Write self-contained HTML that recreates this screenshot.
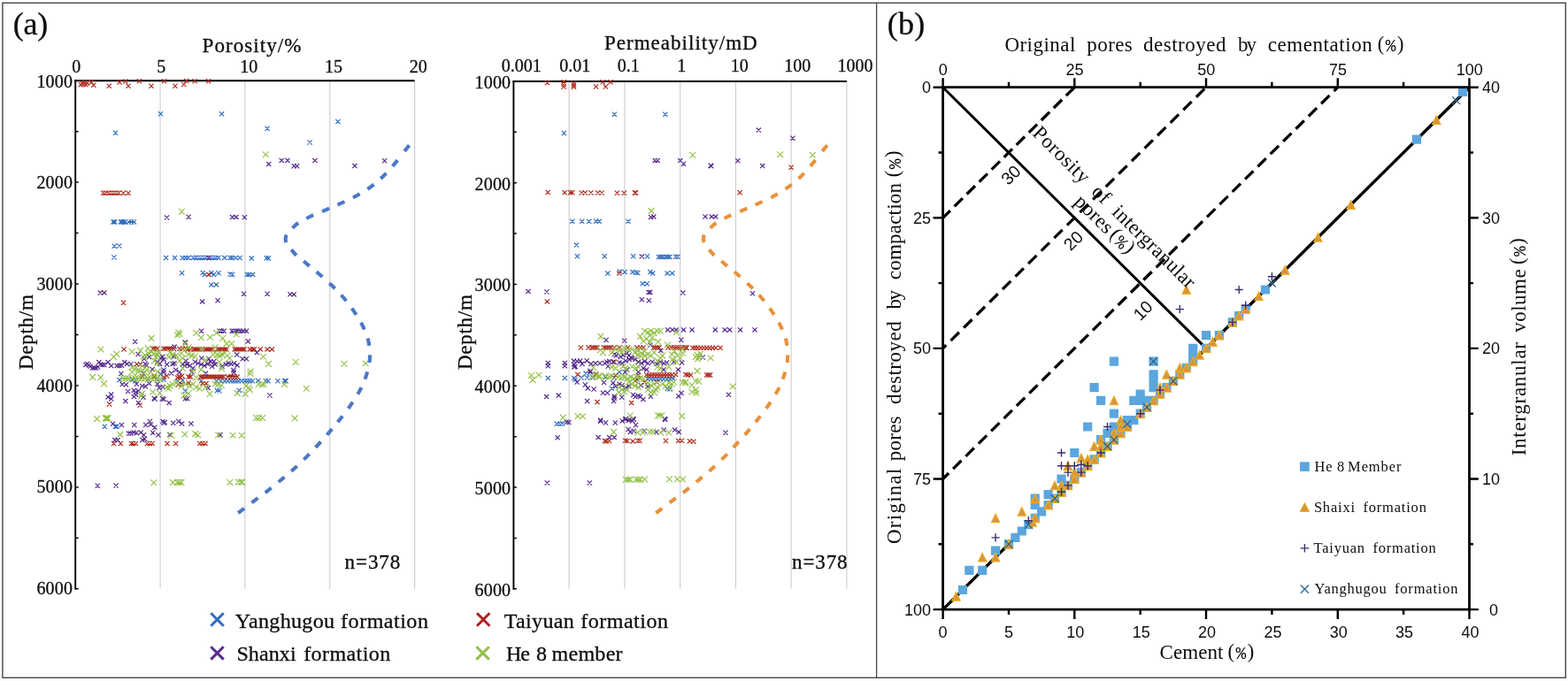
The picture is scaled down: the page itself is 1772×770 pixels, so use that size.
<!DOCTYPE html>
<html lang="en">
<head>
<meta charset="utf-8">
<title>Porosity, permeability and pore destruction charts</title>
<style>
html,body{margin:0;padding:0;background:#fff;}
body{width:1772px;height:770px;overflow:hidden;}
svg{display:block;}
text{fill:#0d0d0d;white-space:pre;}
.sf{font-family:'Liberation Serif','Noto Serif CJK SC',serif;}
.ss{font-family:'Liberation Sans','Noto Sans CJK SC',sans-serif;}
.bd{stroke:#0d0d0d;stroke-width:.3px;}
.sm{font-family:'Liberation Mono','Noto Sans CJK SC',monospace;}
</style>
</head>
<body>
<svg width="1772" height="770" viewBox="0 0 1772 770">
<rect width="1772" height="770" fill="#fff"/>
<rect x="2.9" y="3.3" width="1766.4" height="763.0" fill="none" stroke="#4a4544" stroke-width="1.4"/>
<line x1="990.6" y1="3.3" x2="990.6" y2="766.3" stroke="#4a4544" stroke-width="1.3"/>
<text class="sf bd" y="39.4" font-size="36"><tspan x="14.8" letter-spacing="-0.28">(a)</tspan></text>
<text class="sf bd" y="39.4" font-size="36"><tspan x="1002.8" letter-spacing="0.21">(b)</tspan></text>
<path d="M181.05,91.2V665.8M276.90,91.2V665.8M372.75,91.2V665.8M468.60,91.2V665.8" stroke="#c9c9cd" stroke-width="1.05" fill="none"/>
<line x1="84.3" y1="91.2" x2="468.60" y2="91.2" stroke="#000" stroke-width="2"/>
<line x1="85.2" y1="90.2" x2="85.2" y2="666.6999999999999" stroke="#000" stroke-width="1.9"/>
<path d="M85.2,91.20h3.4M85.2,148.66h3.4M85.2,206.12h3.4M85.2,263.58h3.4M85.2,321.04h3.4M85.2,378.50h3.4M85.2,435.96h3.4M85.2,493.42h3.4M85.2,550.88h3.4M85.2,608.34h3.4M85.2,665.80h3.4" stroke="#000" stroke-width="1.5" fill="none"/>
<text class="sf bd" y="98.5" font-size="20"><tspan x="41.4" letter-spacing="0.2">1000</tspan></text>
<text class="sf bd" y="213.18" font-size="20"><tspan x="41.4" letter-spacing="0.2">2000</tspan></text>
<text class="sf bd" y="327.86" font-size="20"><tspan x="41.4" letter-spacing="0.2">3000</tspan></text>
<text class="sf bd" y="442.54" font-size="20"><tspan x="41.4" letter-spacing="0.2">4000</tspan></text>
<text class="sf bd" y="557.22" font-size="20"><tspan x="41.4" letter-spacing="0.2">5000</tspan></text>
<text class="sf bd" y="671.9" font-size="20"><tspan x="41.4" letter-spacing="0.2">6000</tspan></text>
<text class="sf bd" y="0" font-size="23" transform="translate(37.4 0) rotate(-90)"><tspan x="-418.1" letter-spacing="0.74">Depth/m</tspan></text>
<g id="pts-por">
<path d="M178.9,126.2l5.2,5.2m0,-5.2l-5.2,5.2M248.0,126.2l5.2,5.2m0,-5.2l-5.2,5.2M127.9,147.7l5.2,5.2m0,-5.2l-5.2,5.2M299.5,142.6l5.2,5.2m0,-5.2l-5.2,5.2M347.5,158.4l5.2,5.2m0,-5.2l-5.2,5.2M379.3,134.9l5.2,5.2m0,-5.2l-5.2,5.2M125.4,248.3l5.2,5.2m0,-5.2l-5.2,5.2M127.1,248.3l5.2,5.2m0,-5.2l-5.2,5.2M133.9,248.3l5.2,5.2m0,-5.2l-5.2,5.2M135.6,248.3l5.2,5.2m0,-5.2l-5.2,5.2M137.3,248.3l5.2,5.2m0,-5.2l-5.2,5.2M139.0,248.3l5.2,5.2m0,-5.2l-5.2,5.2M142.9,248.3l5.2,5.2m0,-5.2l-5.2,5.2M145.8,248.3l5.2,5.2m0,-5.2l-5.2,5.2M148.8,248.3l5.2,5.2m0,-5.2l-5.2,5.2M126.6,275.6l5.2,5.2m0,-5.2l-5.2,5.2M132.2,275.4l5.2,5.2m0,-5.2l-5.2,5.2M126.3,288.4l5.2,5.2m0,-5.2l-5.2,5.2M185.0,288.8l5.2,5.2m0,-5.2l-5.2,5.2M194.9,288.8l5.2,5.2m0,-5.2l-5.2,5.2M203.7,288.8l5.2,5.2m0,-5.2l-5.2,5.2M207.3,288.8l5.2,5.2m0,-5.2l-5.2,5.2M210.2,288.8l5.2,5.2m0,-5.2l-5.2,5.2M215.8,288.8l5.2,5.2m0,-5.2l-5.2,5.2M218.6,288.8l5.2,5.2m0,-5.2l-5.2,5.2M221.5,288.8l5.2,5.2m0,-5.2l-5.2,5.2M224.3,288.8l5.2,5.2m0,-5.2l-5.2,5.2M227.1,288.8l5.2,5.2m0,-5.2l-5.2,5.2M229.9,288.8l5.2,5.2m0,-5.2l-5.2,5.2M235.6,288.8l5.2,5.2m0,-5.2l-5.2,5.2M238.4,288.8l5.2,5.2m0,-5.2l-5.2,5.2M241.2,288.8l5.2,5.2m0,-5.2l-5.2,5.2M244.4,288.8l5.2,5.2m0,-5.2l-5.2,5.2M251.2,288.8l5.2,5.2m0,-5.2l-5.2,5.2M257.6,288.8l5.2,5.2m0,-5.2l-5.2,5.2M259.9,288.8l5.2,5.2m0,-5.2l-5.2,5.2M263.8,288.8l5.2,5.2m0,-5.2l-5.2,5.2M268.4,288.8l5.2,5.2m0,-5.2l-5.2,5.2M203.0,306.1l5.2,5.2m0,-5.2l-5.2,5.2M226.6,305.9l5.2,5.2m0,-5.2l-5.2,5.2M228.8,307.8l5.2,5.2m0,-5.2l-5.2,5.2M236.2,305.9l5.2,5.2m0,-5.2l-5.2,5.2M239.0,307.8l5.2,5.2m0,-5.2l-5.2,5.2M244.4,306.1l5.2,5.2m0,-5.2l-5.2,5.2M257.6,307.5l5.2,5.2m0,-5.2l-5.2,5.2M259.9,307.8l5.2,5.2m0,-5.2l-5.2,5.2M276.8,307.8l5.2,5.2m0,-5.2l-5.2,5.2M236.2,319.3l5.2,5.2m0,-5.2l-5.2,5.2M241.8,319.3l5.2,5.2m0,-5.2l-5.2,5.2M281.7,289.5l5.2,5.2m0,-5.2l-5.2,5.2M298.6,289.2l5.2,5.2m0,-5.2l-5.2,5.2M300.9,289.4l5.2,5.2m0,-5.2l-5.2,5.2M279.1,307.8l5.2,5.2m0,-5.2l-5.2,5.2M283.0,307.8l5.2,5.2m0,-5.2l-5.2,5.2M132.4,427.0l5.2,5.2m0,-5.2l-5.2,5.2M146.7,427.0l5.2,5.2m0,-5.2l-5.2,5.2M150.3,428.1l5.2,5.2m0,-5.2l-5.2,5.2M178.8,420.3l5.2,5.2m0,-5.2l-5.2,5.2M182.4,426.7l5.2,5.2m0,-5.2l-5.2,5.2M198.1,428.1l5.2,5.2m0,-5.2l-5.2,5.2M203.8,427.4l5.2,5.2m0,-5.2l-5.2,5.2M206.7,439.5l5.2,5.2m0,-5.2l-5.2,5.2M164.5,426.0l5.2,5.2m0,-5.2l-5.2,5.2M174.5,426.0l5.2,5.2m0,-5.2l-5.2,5.2M224.8,428.1l5.2,5.2m0,-5.2l-5.2,5.2M242.0,428.1l5.2,5.2m0,-5.2l-5.2,5.2M247.0,428.1l5.2,5.2m0,-5.2l-5.2,5.2M251.3,428.1l5.2,5.2m0,-5.2l-5.2,5.2M254.8,428.1l5.2,5.2m0,-5.2l-5.2,5.2M258.4,428.1l5.2,5.2m0,-5.2l-5.2,5.2M261.3,428.1l5.2,5.2m0,-5.2l-5.2,5.2M264.1,428.1l5.2,5.2m0,-5.2l-5.2,5.2M267.0,428.1l5.2,5.2m0,-5.2l-5.2,5.2M270.5,428.1l5.2,5.2m0,-5.2l-5.2,5.2M274.1,428.1l5.2,5.2m0,-5.2l-5.2,5.2M277.0,428.1l5.2,5.2m0,-5.2l-5.2,5.2M279.8,428.1l5.2,5.2m0,-5.2l-5.2,5.2M282.7,428.1l5.2,5.2m0,-5.2l-5.2,5.2M297.7,428.1l5.2,5.2m0,-5.2l-5.2,5.2M300.5,428.1l5.2,5.2m0,-5.2l-5.2,5.2M311.3,428.1l5.2,5.2m0,-5.2l-5.2,5.2M319.1,428.1l5.2,5.2m0,-5.2l-5.2,5.2M320.5,428.1l5.2,5.2m0,-5.2l-5.2,5.2M289.1,427.8l5.2,5.2m0,-5.2l-5.2,5.2M242.7,439.2l5.2,5.2m0,-5.2l-5.2,5.2M245.2,439.2l5.2,5.2m0,-5.2l-5.2,5.2M267.7,438.8l5.2,5.2m0,-5.2l-5.2,5.2M115.6,479.6l5.2,5.2m0,-5.2l-5.2,5.2M127.7,479.6l5.2,5.2m0,-5.2l-5.2,5.2M129.4,479.6l5.2,5.2m0,-5.2l-5.2,5.2" stroke="#2f6cc0" stroke-width="1.2" fill="none"/>
<path d="M88.7,93.1l5.2,5.2m0,-5.2l-5.2,5.2M90.1,91.4l5.2,5.2m0,-5.2l-5.2,5.2M91.5,92.8l5.2,5.2m0,-5.2l-5.2,5.2M93.0,91.2l5.2,5.2m0,-5.2l-5.2,5.2M94.3,93.1l5.2,5.2m0,-5.2l-5.2,5.2M95.7,91.4l5.2,5.2m0,-5.2l-5.2,5.2M100.6,90.3l5.2,5.2m0,-5.2l-5.2,5.2M103.2,93.7l5.2,5.2m0,-5.2l-5.2,5.2M120.7,94.6l5.2,5.2m0,-5.2l-5.2,5.2M132.4,90.5l5.2,5.2m0,-5.2l-5.2,5.2M139.2,89.4l5.2,5.2m0,-5.2l-5.2,5.2M142.4,94.6l5.2,5.2m0,-5.2l-5.2,5.2M154.8,89.2l5.2,5.2m0,-5.2l-5.2,5.2M168.4,94.6l5.2,5.2m0,-5.2l-5.2,5.2M183.0,89.2l5.2,5.2m0,-5.2l-5.2,5.2M195.3,94.6l5.2,5.2m0,-5.2l-5.2,5.2M205.1,92.9l5.2,5.2m0,-5.2l-5.2,5.2M208.1,89.0l5.2,5.2m0,-5.2l-5.2,5.2M217.5,89.2l5.2,5.2m0,-5.2l-5.2,5.2M233.0,89.2l5.2,5.2m0,-5.2l-5.2,5.2M114.1,215.7l5.2,5.2m0,-5.2l-5.2,5.2M116.4,215.7l5.2,5.2m0,-5.2l-5.2,5.2M120.3,215.7l5.2,5.2m0,-5.2l-5.2,5.2M122.6,215.7l5.2,5.2m0,-5.2l-5.2,5.2M124.9,215.7l5.2,5.2m0,-5.2l-5.2,5.2M127.1,215.7l5.2,5.2m0,-5.2l-5.2,5.2M129.4,215.7l5.2,5.2m0,-5.2l-5.2,5.2M131.6,215.7l5.2,5.2m0,-5.2l-5.2,5.2M136.7,215.7l5.2,5.2m0,-5.2l-5.2,5.2M142.4,215.7l5.2,5.2m0,-5.2l-5.2,5.2M233.1,307.8l5.2,5.2m0,-5.2l-5.2,5.2M136.9,339.7l5.2,5.2m0,-5.2l-5.2,5.2M137.4,392.4l5.2,5.2m0,-5.2l-5.2,5.2M152.0,409.2l5.2,5.2m0,-5.2l-5.2,5.2M156.0,409.5l5.2,5.2m0,-5.2l-5.2,5.2M170.3,391.7l5.2,5.2m0,-5.2l-5.2,5.2M172.4,391.7l5.2,5.2m0,-5.2l-5.2,5.2M175.3,391.7l5.2,5.2m0,-5.2l-5.2,5.2M182.4,391.7l5.2,5.2m0,-5.2l-5.2,5.2M184.5,391.7l5.2,5.2m0,-5.2l-5.2,5.2M186.7,391.7l5.2,5.2m0,-5.2l-5.2,5.2M188.8,391.7l5.2,5.2m0,-5.2l-5.2,5.2M191.0,391.7l5.2,5.2m0,-5.2l-5.2,5.2M193.8,391.7l5.2,5.2m0,-5.2l-5.2,5.2M200.3,391.7l5.2,5.2m0,-5.2l-5.2,5.2M203.8,391.7l5.2,5.2m0,-5.2l-5.2,5.2M207.4,391.7l5.2,5.2m0,-5.2l-5.2,5.2M209.8,392.3l5.2,5.2m0,-5.2l-5.2,5.2M212.7,392.3l5.2,5.2m0,-5.2l-5.2,5.2M216.3,392.3l5.2,5.2m0,-5.2l-5.2,5.2M218.4,392.3l5.2,5.2m0,-5.2l-5.2,5.2M220.5,392.3l5.2,5.2m0,-5.2l-5.2,5.2M222.7,392.3l5.2,5.2m0,-5.2l-5.2,5.2M225.5,392.3l5.2,5.2m0,-5.2l-5.2,5.2M229.1,392.3l5.2,5.2m0,-5.2l-5.2,5.2M231.3,392.3l5.2,5.2m0,-5.2l-5.2,5.2M233.4,392.3l5.2,5.2m0,-5.2l-5.2,5.2M235.5,392.3l5.2,5.2m0,-5.2l-5.2,5.2M237.7,392.3l5.2,5.2m0,-5.2l-5.2,5.2M242.7,392.3l5.2,5.2m0,-5.2l-5.2,5.2M244.8,392.3l5.2,5.2m0,-5.2l-5.2,5.2M247.0,392.3l5.2,5.2m0,-5.2l-5.2,5.2M249.1,392.3l5.2,5.2m0,-5.2l-5.2,5.2M251.3,392.3l5.2,5.2m0,-5.2l-5.2,5.2M253.4,392.3l5.2,5.2m0,-5.2l-5.2,5.2M262.7,392.3l5.2,5.2m0,-5.2l-5.2,5.2M264.8,392.3l5.2,5.2m0,-5.2l-5.2,5.2M267.0,392.3l5.2,5.2m0,-5.2l-5.2,5.2M269.1,392.3l5.2,5.2m0,-5.2l-5.2,5.2M271.3,392.3l5.2,5.2m0,-5.2l-5.2,5.2M273.4,392.3l5.2,5.2m0,-5.2l-5.2,5.2M279.8,392.3l5.2,5.2m0,-5.2l-5.2,5.2M282.7,392.3l5.2,5.2m0,-5.2l-5.2,5.2M284.8,392.3l5.2,5.2m0,-5.2l-5.2,5.2M291.6,392.3l5.2,5.2m0,-5.2l-5.2,5.2M299.5,392.3l5.2,5.2m0,-5.2l-5.2,5.2M304.8,392.3l5.2,5.2m0,-5.2l-5.2,5.2M121.0,454.5l5.2,5.2m0,-5.2l-5.2,5.2M155.6,455.6l5.2,5.2m0,-5.2l-5.2,5.2M158.1,423.1l5.2,5.2m0,-5.2l-5.2,5.2M171.7,423.1l5.2,5.2m0,-5.2l-5.2,5.2M182.4,423.8l5.2,5.2m0,-5.2l-5.2,5.2M186.0,422.4l5.2,5.2m0,-5.2l-5.2,5.2M199.5,423.1l5.2,5.2m0,-5.2l-5.2,5.2M201.0,423.8l5.2,5.2m0,-5.2l-5.2,5.2M203.1,422.4l5.2,5.2m0,-5.2l-5.2,5.2M198.1,424.5l5.2,5.2m0,-5.2l-5.2,5.2M198.8,432.4l5.2,5.2m0,-5.2l-5.2,5.2M202.4,431.7l5.2,5.2m0,-5.2l-5.2,5.2M210.5,423.5l5.2,5.2m0,-5.2l-5.2,5.2M212.7,423.5l5.2,5.2m0,-5.2l-5.2,5.2M224.1,423.5l5.2,5.2m0,-5.2l-5.2,5.2M226.3,423.5l5.2,5.2m0,-5.2l-5.2,5.2M228.4,423.5l5.2,5.2m0,-5.2l-5.2,5.2M230.5,423.5l5.2,5.2m0,-5.2l-5.2,5.2M232.7,423.5l5.2,5.2m0,-5.2l-5.2,5.2M234.8,423.5l5.2,5.2m0,-5.2l-5.2,5.2M237.0,423.5l5.2,5.2m0,-5.2l-5.2,5.2M239.1,423.5l5.2,5.2m0,-5.2l-5.2,5.2M241.3,423.5l5.2,5.2m0,-5.2l-5.2,5.2M243.4,423.5l5.2,5.2m0,-5.2l-5.2,5.2M245.5,423.5l5.2,5.2m0,-5.2l-5.2,5.2M247.7,423.5l5.2,5.2m0,-5.2l-5.2,5.2M249.8,423.5l5.2,5.2m0,-5.2l-5.2,5.2M254.8,423.5l5.2,5.2m0,-5.2l-5.2,5.2M257.7,423.5l5.2,5.2m0,-5.2l-5.2,5.2M259.8,423.5l5.2,5.2m0,-5.2l-5.2,5.2M262.7,423.5l5.2,5.2m0,-5.2l-5.2,5.2M265.5,423.5l5.2,5.2m0,-5.2l-5.2,5.2M226.3,431.0l5.2,5.2m0,-5.2l-5.2,5.2M230.5,431.0l5.2,5.2m0,-5.2l-5.2,5.2M210.5,430.3l5.2,5.2m0,-5.2l-5.2,5.2M126.0,498.9l5.2,5.2m0,-5.2l-5.2,5.2M133.7,498.9l5.2,5.2m0,-5.2l-5.2,5.2M145.8,498.9l5.2,5.2m0,-5.2l-5.2,5.2M148.0,498.9l5.2,5.2m0,-5.2l-5.2,5.2M150.8,498.9l5.2,5.2m0,-5.2l-5.2,5.2M163.8,498.9l5.2,5.2m0,-5.2l-5.2,5.2M166.7,498.9l5.2,5.2m0,-5.2l-5.2,5.2M169.5,498.9l5.2,5.2m0,-5.2l-5.2,5.2M186.4,498.9l5.2,5.2m0,-5.2l-5.2,5.2M196.0,498.9l5.2,5.2m0,-5.2l-5.2,5.2M223.2,498.9l5.2,5.2m0,-5.2l-5.2,5.2M226.6,498.9l5.2,5.2m0,-5.2l-5.2,5.2M229.4,498.9l5.2,5.2m0,-5.2l-5.2,5.2" stroke="#ae2a1c" stroke-width="1.2" fill="none"/>
<path d="M185.9,243.4l5.2,5.2m0,-5.2l-5.2,5.2M210.5,242.6l5.2,5.2m0,-5.2l-5.2,5.2M259.9,242.8l5.2,5.2m0,-5.2l-5.2,5.2M264.4,242.8l5.2,5.2m0,-5.2l-5.2,5.2M273.8,243.1l5.2,5.2m0,-5.2l-5.2,5.2M301.1,183.0l5.2,5.2m0,-5.2l-5.2,5.2M315.6,178.8l5.2,5.2m0,-5.2l-5.2,5.2M322.3,178.8l5.2,5.2m0,-5.2l-5.2,5.2M329.6,185.2l5.2,5.2m0,-5.2l-5.2,5.2M333.1,185.2l5.2,5.2m0,-5.2l-5.2,5.2M353.3,179.0l5.2,5.2m0,-5.2l-5.2,5.2M398.3,185.0l5.2,5.2m0,-5.2l-5.2,5.2M432.0,179.2l5.2,5.2m0,-5.2l-5.2,5.2M233.1,288.9l5.2,5.2m0,-5.2l-5.2,5.2M110.7,328.5l5.2,5.2m0,-5.2l-5.2,5.2M115.3,328.3l5.2,5.2m0,-5.2l-5.2,5.2M226.0,338.3l5.2,5.2m0,-5.2l-5.2,5.2M243.5,337.2l5.2,5.2m0,-5.2l-5.2,5.2M272.9,329.6l5.2,5.2m0,-5.2l-5.2,5.2M299.5,329.6l5.2,5.2m0,-5.2l-5.2,5.2M325.4,330.1l5.2,5.2m0,-5.2l-5.2,5.2M329.6,330.3l5.2,5.2m0,-5.2l-5.2,5.2M150.1,383.7l5.2,5.2m0,-5.2l-5.2,5.2M153.5,397.9l5.2,5.2m0,-5.2l-5.2,5.2M94.2,409.9l5.2,5.2m0,-5.2l-5.2,5.2M96.0,408.8l5.2,5.2m0,-5.2l-5.2,5.2M97.8,410.3l5.2,5.2m0,-5.2l-5.2,5.2M99.5,411.7l5.2,5.2m0,-5.2l-5.2,5.2M101.7,413.5l5.2,5.2m0,-5.2l-5.2,5.2M103.8,413.5l5.2,5.2m0,-5.2l-5.2,5.2M106.0,413.5l5.2,5.2m0,-5.2l-5.2,5.2M108.1,412.4l5.2,5.2m0,-5.2l-5.2,5.2M109.2,407.0l5.2,5.2m0,-5.2l-5.2,5.2M111.0,409.5l5.2,5.2m0,-5.2l-5.2,5.2M113.1,409.9l5.2,5.2m0,-5.2l-5.2,5.2M115.3,409.9l5.2,5.2m0,-5.2l-5.2,5.2M119.5,407.0l5.2,5.2m0,-5.2l-5.2,5.2M123.0,411.0l5.2,5.2m0,-5.2l-5.2,5.2M129.5,411.0l5.2,5.2m0,-5.2l-5.2,5.2M132.4,411.0l5.2,5.2m0,-5.2l-5.2,5.2M134.9,410.6l5.2,5.2m0,-5.2l-5.2,5.2M138.1,407.0l5.2,5.2m0,-5.2l-5.2,5.2M141.0,408.8l5.2,5.2m0,-5.2l-5.2,5.2M145.3,409.2l5.2,5.2m0,-5.2l-5.2,5.2M161.7,408.8l5.2,5.2m0,-5.2l-5.2,5.2M163.1,410.3l5.2,5.2m0,-5.2l-5.2,5.2M166.0,401.0l5.2,5.2m0,-5.2l-5.2,5.2M160.3,403.1l5.2,5.2m0,-5.2l-5.2,5.2M178.8,402.4l5.2,5.2m0,-5.2l-5.2,5.2M181.0,401.0l5.2,5.2m0,-5.2l-5.2,5.2M182.4,403.8l5.2,5.2m0,-5.2l-5.2,5.2M175.3,406.7l5.2,5.2m0,-5.2l-5.2,5.2M178.1,408.8l5.2,5.2m0,-5.2l-5.2,5.2M186.0,409.5l5.2,5.2m0,-5.2l-5.2,5.2M192.4,408.8l5.2,5.2m0,-5.2l-5.2,5.2M194.5,408.1l5.2,5.2m0,-5.2l-5.2,5.2M193.8,400.3l5.2,5.2m0,-5.2l-5.2,5.2M194.5,389.5l5.2,5.2m0,-5.2l-5.2,5.2M169.5,414.9l5.2,5.2m0,-5.2l-5.2,5.2M182.4,415.6l5.2,5.2m0,-5.2l-5.2,5.2M196.0,415.6l5.2,5.2m0,-5.2l-5.2,5.2M203.8,409.5l5.2,5.2m0,-5.2l-5.2,5.2M206.0,411.0l5.2,5.2m0,-5.2l-5.2,5.2M207.4,405.3l5.2,5.2m0,-5.2l-5.2,5.2M206.7,384.5l5.2,5.2m0,-5.2l-5.2,5.2M225.0,371.7l5.2,5.2m0,-5.2l-5.2,5.2M245.5,371.7l5.2,5.2m0,-5.2l-5.2,5.2M247.7,371.7l5.2,5.2m0,-5.2l-5.2,5.2M250.5,371.7l5.2,5.2m0,-5.2l-5.2,5.2M259.5,371.7l5.2,5.2m0,-5.2l-5.2,5.2M261.6,371.7l5.2,5.2m0,-5.2l-5.2,5.2M263.8,371.7l5.2,5.2m0,-5.2l-5.2,5.2M266.3,371.7l5.2,5.2m0,-5.2l-5.2,5.2M269.1,371.7l5.2,5.2m0,-5.2l-5.2,5.2M272.3,371.7l5.2,5.2m0,-5.2l-5.2,5.2M275.9,371.7l5.2,5.2m0,-5.2l-5.2,5.2M277.7,383.3l5.2,5.2m0,-5.2l-5.2,5.2M265.2,398.5l5.2,5.2m0,-5.2l-5.2,5.2M271.6,403.1l5.2,5.2m0,-5.2l-5.2,5.2M275.9,403.1l5.2,5.2m0,-5.2l-5.2,5.2M287.7,396.0l5.2,5.2m0,-5.2l-5.2,5.2M225.2,402.4l5.2,5.2m0,-5.2l-5.2,5.2M233.4,403.1l5.2,5.2m0,-5.2l-5.2,5.2M217.7,406.7l5.2,5.2m0,-5.2l-5.2,5.2M221.3,408.1l5.2,5.2m0,-5.2l-5.2,5.2M224.8,409.5l5.2,5.2m0,-5.2l-5.2,5.2M228.4,411.0l5.2,5.2m0,-5.2l-5.2,5.2M232.0,408.8l5.2,5.2m0,-5.2l-5.2,5.2M235.5,406.7l5.2,5.2m0,-5.2l-5.2,5.2M239.1,406.0l5.2,5.2m0,-5.2l-5.2,5.2M240.5,409.5l5.2,5.2m0,-5.2l-5.2,5.2M237.0,411.7l5.2,5.2m0,-5.2l-5.2,5.2M252.7,409.5l5.2,5.2m0,-5.2l-5.2,5.2M255.5,408.1l5.2,5.2m0,-5.2l-5.2,5.2M258.4,408.8l5.2,5.2m0,-5.2l-5.2,5.2M262.0,408.1l5.2,5.2m0,-5.2l-5.2,5.2M265.5,410.3l5.2,5.2m0,-5.2l-5.2,5.2M261.3,416.0l5.2,5.2m0,-5.2l-5.2,5.2M215.5,413.8l5.2,5.2m0,-5.2l-5.2,5.2M212.0,411.0l5.2,5.2m0,-5.2l-5.2,5.2M209.1,409.5l5.2,5.2m0,-5.2l-5.2,5.2M248.4,411.7l5.2,5.2m0,-5.2l-5.2,5.2M134.2,419.9l5.2,5.2m0,-5.2l-5.2,5.2M159.5,419.5l5.2,5.2m0,-5.2l-5.2,5.2M182.4,418.1l5.2,5.2m0,-5.2l-5.2,5.2M191.0,419.5l5.2,5.2m0,-5.2l-5.2,5.2M200.3,418.1l5.2,5.2m0,-5.2l-5.2,5.2M135.6,432.0l5.2,5.2m0,-5.2l-5.2,5.2M139.9,432.4l5.2,5.2m0,-5.2l-5.2,5.2M151.7,431.7l5.2,5.2m0,-5.2l-5.2,5.2M158.1,433.8l5.2,5.2m0,-5.2l-5.2,5.2M161.7,434.5l5.2,5.2m0,-5.2l-5.2,5.2M166.0,431.0l5.2,5.2m0,-5.2l-5.2,5.2M175.3,431.7l5.2,5.2m0,-5.2l-5.2,5.2M177.4,436.0l5.2,5.2m0,-5.2l-5.2,5.2M181.7,434.9l5.2,5.2m0,-5.2l-5.2,5.2M142.0,439.9l5.2,5.2m0,-5.2l-5.2,5.2M148.8,438.8l5.2,5.2m0,-5.2l-5.2,5.2M151.0,441.0l5.2,5.2m0,-5.2l-5.2,5.2M153.8,439.5l5.2,5.2m0,-5.2l-5.2,5.2M148.8,446.0l5.2,5.2m0,-5.2l-5.2,5.2M151.0,443.8l5.2,5.2m0,-5.2l-5.2,5.2M159.5,446.7l5.2,5.2m0,-5.2l-5.2,5.2M119.5,446.3l5.2,5.2m0,-5.2l-5.2,5.2M123.1,443.5l5.2,5.2m0,-5.2l-5.2,5.2M123.1,448.5l5.2,5.2m0,-5.2l-5.2,5.2M139.2,451.0l5.2,5.2m0,-5.2l-5.2,5.2M153.8,452.8l5.2,5.2m0,-5.2l-5.2,5.2M171.7,447.8l5.2,5.2m0,-5.2l-5.2,5.2M172.4,448.5l5.2,5.2m0,-5.2l-5.2,5.2M181.0,448.1l5.2,5.2m0,-5.2l-5.2,5.2M182.4,448.8l5.2,5.2m0,-5.2l-5.2,5.2M188.5,452.8l5.2,5.2m0,-5.2l-5.2,5.2M206.7,448.1l5.2,5.2m0,-5.2l-5.2,5.2M302.3,444.4l5.2,5.2m0,-5.2l-5.2,5.2M209.1,448.1l5.2,5.2m0,-5.2l-5.2,5.2M261.6,418.5l5.2,5.2m0,-5.2l-5.2,5.2M229.8,419.5l5.2,5.2m0,-5.2l-5.2,5.2M232.7,436.0l5.2,5.2m0,-5.2l-5.2,5.2M214.1,418.1l5.2,5.2m0,-5.2l-5.2,5.2M124.9,476.7l5.2,5.2m0,-5.2l-5.2,5.2M134.8,477.9l5.2,5.2m0,-5.2l-5.2,5.2M149.2,477.9l5.2,5.2m0,-5.2l-5.2,5.2M162.1,477.9l5.2,5.2m0,-5.2l-5.2,5.2M166.7,473.9l5.2,5.2m0,-5.2l-5.2,5.2M167.8,477.3l5.2,5.2m0,-5.2l-5.2,5.2M172.3,480.7l5.2,5.2m0,-5.2l-5.2,5.2M181.4,473.9l5.2,5.2m0,-5.2l-5.2,5.2M182.5,475.6l5.2,5.2m0,-5.2l-5.2,5.2M183.6,475.0l5.2,5.2m0,-5.2l-5.2,5.2M193.2,475.6l5.2,5.2m0,-5.2l-5.2,5.2M199.2,473.9l5.2,5.2m0,-5.2l-5.2,5.2M203.0,476.5l5.2,5.2m0,-5.2l-5.2,5.2M213.3,476.5l5.2,5.2m0,-5.2l-5.2,5.2M142.9,487.5l5.2,5.2m0,-5.2l-5.2,5.2M145.2,487.5l5.2,5.2m0,-5.2l-5.2,5.2M148.6,486.3l5.2,5.2m0,-5.2l-5.2,5.2M151.4,486.9l5.2,5.2m0,-5.2l-5.2,5.2M156.5,486.3l5.2,5.2m0,-5.2l-5.2,5.2M159.9,489.2l5.2,5.2m0,-5.2l-5.2,5.2M161.0,493.7l5.2,5.2m0,-5.2l-5.2,5.2M158.2,494.8l5.2,5.2m0,-5.2l-5.2,5.2M170.1,486.6l5.2,5.2m0,-5.2l-5.2,5.2M176.3,489.2l5.2,5.2m0,-5.2l-5.2,5.2M189.3,488.9l5.2,5.2m0,-5.2l-5.2,5.2M127.1,495.0l5.2,5.2m0,-5.2l-5.2,5.2M130.5,495.0l5.2,5.2m0,-5.2l-5.2,5.2M246.3,489.2l5.2,5.2m0,-5.2l-5.2,5.2M107.7,546.6l5.2,5.2m0,-5.2l-5.2,5.2M128.5,546.4l5.2,5.2m0,-5.2l-5.2,5.2" stroke="#552b8e" stroke-width="1.2" fill="none"/>
<path d="M202.0,235.8l6.8,6.8m0,-6.8l-6.8,6.8M296.9,171.4l6.8,6.8m0,-6.8l-6.8,6.8M110.5,391.6l6.8,6.8m0,-6.8l-6.8,6.8M167.7,379.0l6.8,6.8m0,-6.8l-6.8,6.8M128.4,397.0l6.8,6.8m0,-6.8l-6.8,6.8M125.0,400.2l6.8,6.8m0,-6.8l-6.8,6.8M145.7,394.1l6.8,6.8m0,-6.8l-6.8,6.8M155.3,393.0l6.8,6.8m0,-6.8l-6.8,6.8M198.4,372.3l6.8,6.8m0,-6.8l-6.8,6.8M197.3,375.2l6.8,6.8m0,-6.8l-6.8,6.8M199.5,374.1l6.8,6.8m0,-6.8l-6.8,6.8M163.7,390.5l6.8,6.8m0,-6.8l-6.8,6.8M160.2,398.0l6.8,6.8m0,-6.8l-6.8,6.8M164.5,395.9l6.8,6.8m0,-6.8l-6.8,6.8M167.3,394.5l6.8,6.8m0,-6.8l-6.8,6.8M170.9,396.6l6.8,6.8m0,-6.8l-6.8,6.8M174.5,397.3l6.8,6.8m0,-6.8l-6.8,6.8M158.7,400.2l6.8,6.8m0,-6.8l-6.8,6.8M173.0,400.2l6.8,6.8m0,-6.8l-6.8,6.8M175.9,394.5l6.8,6.8m0,-6.8l-6.8,6.8M188.7,395.2l6.8,6.8m0,-6.8l-6.8,6.8M192.3,397.3l6.8,6.8m0,-6.8l-6.8,6.8M195.9,398.7l6.8,6.8m0,-6.8l-6.8,6.8M201.6,395.9l6.8,6.8m0,-6.8l-6.8,6.8M204.5,393.0l6.8,6.8m0,-6.8l-6.8,6.8M205.9,385.2l6.8,6.8m0,-6.8l-6.8,6.8M203.0,401.6l6.8,6.8m0,-6.8l-6.8,6.8M199.5,404.5l6.8,6.8m0,-6.8l-6.8,6.8M187.3,400.2l6.8,6.8m0,-6.8l-6.8,6.8M170.9,404.5l6.8,6.8m0,-6.8l-6.8,6.8M174.5,407.3l6.8,6.8m0,-6.8l-6.8,6.8M145.9,412.3l6.8,6.8m0,-6.8l-6.8,6.8M149.5,413.7l6.8,6.8m0,-6.8l-6.8,6.8M153.0,414.5l6.8,6.8m0,-6.8l-6.8,6.8M160.2,413.0l6.8,6.8m0,-6.8l-6.8,6.8M162.3,415.2l6.8,6.8m0,-6.8l-6.8,6.8M203.0,413.0l6.8,6.8m0,-6.8l-6.8,6.8M218.3,373.0l6.8,6.8m0,-6.8l-6.8,6.8M224.0,378.4l6.8,6.8m0,-6.8l-6.8,6.8M234.0,378.0l6.8,6.8m0,-6.8l-6.8,6.8M241.2,373.0l6.8,6.8m0,-6.8l-6.8,6.8M248.3,379.1l6.8,6.8m0,-6.8l-6.8,6.8M263.7,374.5l6.8,6.8m0,-6.8l-6.8,6.8M252.6,385.2l6.8,6.8m0,-6.8l-6.8,6.8M258.3,385.2l6.8,6.8m0,-6.8l-6.8,6.8M209.7,389.5l6.8,6.8m0,-6.8l-6.8,6.8M224.0,391.6l6.8,6.8m0,-6.8l-6.8,6.8M239.7,389.5l6.8,6.8m0,-6.8l-6.8,6.8M209.7,397.3l6.8,6.8m0,-6.8l-6.8,6.8M213.3,398.7l6.8,6.8m0,-6.8l-6.8,6.8M216.9,399.5l6.8,6.8m0,-6.8l-6.8,6.8M237.6,397.3l6.8,6.8m0,-6.8l-6.8,6.8M241.9,398.0l6.8,6.8m0,-6.8l-6.8,6.8M244.7,398.7l6.8,6.8m0,-6.8l-6.8,6.8M247.6,397.3l6.8,6.8m0,-6.8l-6.8,6.8M250.5,395.9l6.8,6.8m0,-6.8l-6.8,6.8M253.3,398.7l6.8,6.8m0,-6.8l-6.8,6.8M256.2,401.6l6.8,6.8m0,-6.8l-6.8,6.8M244.7,405.9l6.8,6.8m0,-6.8l-6.8,6.8M229.0,403.7l6.8,6.8m0,-6.8l-6.8,6.8M246.9,413.0l6.8,6.8m0,-6.8l-6.8,6.8M224.0,414.5l6.8,6.8m0,-6.8l-6.8,6.8M214.7,415.9l6.8,6.8m0,-6.8l-6.8,6.8M294.0,399.8l6.8,6.8m0,-6.8l-6.8,6.8M300.1,408.0l6.8,6.8m0,-6.8l-6.8,6.8M330.8,405.9l6.8,6.8m0,-6.8l-6.8,6.8M279.7,416.6l6.8,6.8m0,-6.8l-6.8,6.8M101.2,423.0l6.8,6.8m0,-6.8l-6.8,6.8M110.2,423.4l6.8,6.8m0,-6.8l-6.8,6.8M114.1,430.5l6.8,6.8m0,-6.8l-6.8,6.8M135.9,424.5l6.8,6.8m0,-6.8l-6.8,6.8M138.7,424.5l6.8,6.8m0,-6.8l-6.8,6.8M141.6,424.5l6.8,6.8m0,-6.8l-6.8,6.8M145.9,424.5l6.8,6.8m0,-6.8l-6.8,6.8M149.5,424.5l6.8,6.8m0,-6.8l-6.8,6.8M153.0,424.5l6.8,6.8m0,-6.8l-6.8,6.8M156.6,424.5l6.8,6.8m0,-6.8l-6.8,6.8M160.2,424.5l6.8,6.8m0,-6.8l-6.8,6.8M163.7,424.5l6.8,6.8m0,-6.8l-6.8,6.8M167.3,424.5l6.8,6.8m0,-6.8l-6.8,6.8M170.9,424.5l6.8,6.8m0,-6.8l-6.8,6.8M174.5,424.5l6.8,6.8m0,-6.8l-6.8,6.8M178.0,425.9l6.8,6.8m0,-6.8l-6.8,6.8M157.3,441.6l6.8,6.8m0,-6.8l-6.8,6.8M155.9,444.5l6.8,6.8m0,-6.8l-6.8,6.8M169.1,439.8l6.8,6.8m0,-6.8l-6.8,6.8M177.0,441.2l6.8,6.8m0,-6.8l-6.8,6.8M187.3,435.9l6.8,6.8m0,-6.8l-6.8,6.8M188.7,433.0l6.8,6.8m0,-6.8l-6.8,6.8M185.2,434.5l6.8,6.8m0,-6.8l-6.8,6.8M191.6,430.9l6.8,6.8m0,-6.8l-6.8,6.8M195.9,429.5l6.8,6.8m0,-6.8l-6.8,6.8M204.5,443.7l6.8,6.8m0,-6.8l-6.8,6.8M201.6,433.0l6.8,6.8m0,-6.8l-6.8,6.8M205.9,430.9l6.8,6.8m0,-6.8l-6.8,6.8M106.2,470.2l6.8,6.8m0,-6.8l-6.8,6.8M115.9,469.5l6.8,6.8m0,-6.8l-6.8,6.8M117.3,469.5l6.8,6.8m0,-6.8l-6.8,6.8M118.7,469.5l6.8,6.8m0,-6.8l-6.8,6.8M145.9,417.0l6.8,6.8m0,-6.8l-6.8,6.8M153.0,417.0l6.8,6.8m0,-6.8l-6.8,6.8M160.2,417.0l6.8,6.8m0,-6.8l-6.8,6.8M167.3,417.3l6.8,6.8m0,-6.8l-6.8,6.8M174.5,417.0l6.8,6.8m0,-6.8l-6.8,6.8M279.4,419.1l6.8,6.8m0,-6.8l-6.8,6.8M218.3,423.7l6.8,6.8m0,-6.8l-6.8,6.8M214.7,430.9l6.8,6.8m0,-6.8l-6.8,6.8M211.2,433.0l6.8,6.8m0,-6.8l-6.8,6.8M218.3,434.5l6.8,6.8m0,-6.8l-6.8,6.8M221.9,435.9l6.8,6.8m0,-6.8l-6.8,6.8M209.7,441.6l6.8,6.8m0,-6.8l-6.8,6.8M229.0,434.5l6.8,6.8m0,-6.8l-6.8,6.8M233.7,442.0l6.8,6.8m0,-6.8l-6.8,6.8M239.7,430.5l6.8,6.8m0,-6.8l-6.8,6.8M243.3,431.6l6.8,6.8m0,-6.8l-6.8,6.8M246.9,432.3l6.8,6.8m0,-6.8l-6.8,6.8M264.7,441.2l6.8,6.8m0,-6.8l-6.8,6.8M273.7,442.0l6.8,6.8m0,-6.8l-6.8,6.8M274.7,433.0l6.8,6.8m0,-6.8l-6.8,6.8M277.6,435.2l6.8,6.8m0,-6.8l-6.8,6.8M279.0,437.3l6.8,6.8m0,-6.8l-6.8,6.8M289.0,430.9l6.8,6.8m0,-6.8l-6.8,6.8M292.6,431.6l6.8,6.8m0,-6.8l-6.8,6.8M294.7,430.9l6.8,6.8m0,-6.8l-6.8,6.8M318.0,431.2l6.8,6.8m0,-6.8l-6.8,6.8M286.2,469.1l6.8,6.8m0,-6.8l-6.8,6.8M289.0,469.1l6.8,6.8m0,-6.8l-6.8,6.8M293.3,469.1l6.8,6.8m0,-6.8l-6.8,6.8M329.7,469.5l6.8,6.8m0,-6.8l-6.8,6.8M385.6,407.9l6.8,6.8m0,-6.8l-6.8,6.8M409.7,407.6l6.8,6.8m0,-6.8l-6.8,6.8M132.5,488.0l6.8,6.8m0,-6.8l-6.8,6.8M190.2,488.9l6.8,6.8m0,-6.8l-6.8,6.8M205.4,487.6l6.8,6.8m0,-6.8l-6.8,6.8M217.3,487.2l6.8,6.8m0,-6.8l-6.8,6.8M220.1,488.4l6.8,6.8m0,-6.8l-6.8,6.8M243.3,488.6l6.8,6.8m0,-6.8l-6.8,6.8M259.7,488.9l6.8,6.8m0,-6.8l-6.8,6.8M269.8,488.9l6.8,6.8m0,-6.8l-6.8,6.8M342.9,435.8l6.8,6.8m0,-6.8l-6.8,6.8M170.4,542.4l6.8,6.8m0,-6.8l-6.8,6.8M191.9,542.0l6.8,6.8m0,-6.8l-6.8,6.8M196.9,542.0l6.8,6.8m0,-6.8l-6.8,6.8M199.2,542.0l6.8,6.8m0,-6.8l-6.8,6.8M201.5,542.0l6.8,6.8m0,-6.8l-6.8,6.8M256.5,541.8l6.8,6.8m0,-6.8l-6.8,6.8M265.9,541.7l6.8,6.8m0,-6.8l-6.8,6.8M268.7,541.7l6.8,6.8m0,-6.8l-6.8,6.8M270.4,541.7l6.8,6.8m0,-6.8l-6.8,6.8" stroke="#92c047" stroke-width="1.1" fill="none"/>
</g>
<text class="sf bd" y="81.9" font-size="20"><tspan x="81.2">0</tspan></text>
<text class="sf bd" y="81.9" font-size="20"><tspan x="177.3">5</tspan></text>
<text class="sf bd" y="81.9" font-size="20"><tspan x="271.3">10</tspan></text>
<text class="sf bd" y="81.9" font-size="20"><tspan x="367.1">15</tspan></text>
<text class="sf bd" y="81.9" font-size="20"><tspan x="462.8">20</tspan></text>
<text class="sf bd" y="59" font-size="23"><tspan x="228.6" letter-spacing="1.06">Porosity/%</tspan></text>
<text class="sf bd" y="643" font-size="23"><tspan x="389.6" letter-spacing="0.93">n=378</tspan></text>
<path d="M643.15,91.9V665.8M705.90,91.9V665.8M768.65,91.9V665.8M831.40,91.9V665.8M894.15,91.9V665.8M956.90,91.9V665.8" stroke="#d2d2d4" stroke-width="1.25" fill="none"/>
<line x1="579.5" y1="91.9" x2="956.90" y2="91.9" stroke="#000" stroke-width="2"/>
<line x1="580.4" y1="90.9" x2="580.4" y2="666.6999999999999" stroke="#000" stroke-width="1.9"/>
<path d="M580.4,91.90h3.4M580.4,149.29h3.4M580.4,206.68h3.4M580.4,264.07h3.4M580.4,321.46h3.4M580.4,378.85h3.4M580.4,436.24h3.4M580.4,493.63h3.4M580.4,551.02h3.4M580.4,608.41h3.4M580.4,665.80h3.4" stroke="#000" stroke-width="1.5" fill="none"/>
<text class="sf bd" y="100.1" font-size="20"><tspan x="536.5" letter-spacing="0.2">1000</tspan></text>
<text class="sf bd" y="214.78" font-size="20"><tspan x="536.5" letter-spacing="0.2">2000</tspan></text>
<text class="sf bd" y="329.46" font-size="20"><tspan x="536.5" letter-spacing="0.2">3000</tspan></text>
<text class="sf bd" y="444.14" font-size="20"><tspan x="536.5" letter-spacing="0.2">4000</tspan></text>
<text class="sf bd" y="558.82" font-size="20"><tspan x="536.5" letter-spacing="0.2">5000</tspan></text>
<text class="sf bd" y="673.5" font-size="20"><tspan x="536.5" letter-spacing="0.2">6000</tspan></text>
<text class="sf bd" y="0" font-size="23" transform="translate(533.0 0) rotate(-90)"><tspan x="-418.1" letter-spacing="0.74">Depth/m</tspan></text>
<g id="pts-perm">
<path d="M691.8,126.7l5.2,5.2m0,-5.2l-5.2,5.2M749.2,126.7l5.2,5.2m0,-5.2l-5.2,5.2M634.8,147.9l5.2,5.2m0,-5.2l-5.2,5.2M644.2,247.6l5.2,5.2m0,-5.2l-5.2,5.2M655.1,247.6l5.2,5.2m0,-5.2l-5.2,5.2M663.1,247.6l5.2,5.2m0,-5.2l-5.2,5.2M670.9,247.6l5.2,5.2m0,-5.2l-5.2,5.2M674.7,247.6l5.2,5.2m0,-5.2l-5.2,5.2M707.4,247.6l5.2,5.2m0,-5.2l-5.2,5.2M648.9,274.5l5.2,5.2m0,-5.2l-5.2,5.2M649.8,287.1l5.2,5.2m0,-5.2l-5.2,5.2M680.6,287.2l5.2,5.2m0,-5.2l-5.2,5.2M713.1,287.1l5.2,5.2m0,-5.2l-5.2,5.2M728.9,287.1l5.2,5.2m0,-5.2l-5.2,5.2M741.9,287.8l5.2,5.2m0,-5.2l-5.2,5.2M744.2,287.8l5.2,5.2m0,-5.2l-5.2,5.2M746.4,287.8l5.2,5.2m0,-5.2l-5.2,5.2M749.8,287.8l5.2,5.2m0,-5.2l-5.2,5.2M752.1,287.8l5.2,5.2m0,-5.2l-5.2,5.2M754.3,287.8l5.2,5.2m0,-5.2l-5.2,5.2M761.1,287.7l5.2,5.2m0,-5.2l-5.2,5.2M763.4,287.7l5.2,5.2m0,-5.2l-5.2,5.2M684.3,306.5l5.2,5.2m0,-5.2l-5.2,5.2M697.6,304.4l5.2,5.2m0,-5.2l-5.2,5.2M703.5,305.0l5.2,5.2m0,-5.2l-5.2,5.2M712.3,305.0l5.2,5.2m0,-5.2l-5.2,5.2M715.9,305.6l5.2,5.2m0,-5.2l-5.2,5.2M718.2,305.9l5.2,5.2m0,-5.2l-5.2,5.2M732.3,305.0l5.2,5.2m0,-5.2l-5.2,5.2M735.1,306.3l5.2,5.2m0,-5.2l-5.2,5.2M751.5,306.3l5.2,5.2m0,-5.2l-5.2,5.2M757.1,306.3l5.2,5.2m0,-5.2l-5.2,5.2M723.6,318.2l5.2,5.2m0,-5.2l-5.2,5.2M728.6,318.2l5.2,5.2m0,-5.2l-5.2,5.2M616.7,425.0l5.2,5.2m0,-5.2l-5.2,5.2M635.7,424.8l5.2,5.2m0,-5.2l-5.2,5.2M646.4,424.8l5.2,5.2m0,-5.2l-5.2,5.2M654.5,424.5l5.2,5.2m0,-5.2l-5.2,5.2M659.5,419.5l5.2,5.2m0,-5.2l-5.2,5.2M661.0,424.5l5.2,5.2m0,-5.2l-5.2,5.2M667.4,424.5l5.2,5.2m0,-5.2l-5.2,5.2M681.7,423.8l5.2,5.2m0,-5.2l-5.2,5.2M691.7,424.5l5.2,5.2m0,-5.2l-5.2,5.2M647.4,426.7l5.2,5.2m0,-5.2l-5.2,5.2M688.8,436.7l5.2,5.2m0,-5.2l-5.2,5.2M729.5,426.0l5.2,5.2m0,-5.2l-5.2,5.2M733.1,426.0l5.2,5.2m0,-5.2l-5.2,5.2M736.7,426.0l5.2,5.2m0,-5.2l-5.2,5.2M740.3,426.0l5.2,5.2m0,-5.2l-5.2,5.2M743.8,426.0l5.2,5.2m0,-5.2l-5.2,5.2M747.4,426.0l5.2,5.2m0,-5.2l-5.2,5.2M751.0,426.0l5.2,5.2m0,-5.2l-5.2,5.2M754.5,426.0l5.2,5.2m0,-5.2l-5.2,5.2M758.1,425.3l5.2,5.2m0,-5.2l-5.2,5.2M751.7,437.0l5.2,5.2m0,-5.2l-5.2,5.2M754.5,437.4l5.2,5.2m0,-5.2l-5.2,5.2M697.4,418.1l5.2,5.2m0,-5.2l-5.2,5.2M717.4,426.7l5.2,5.2m0,-5.2l-5.2,5.2M626.6,476.7l5.2,5.2m0,-5.2l-5.2,5.2M630.6,476.7l5.2,5.2m0,-5.2l-5.2,5.2M632.9,476.5l5.2,5.2m0,-5.2l-5.2,5.2" stroke="#2f6cc0" stroke-width="1.2" fill="none"/>
<path d="M615.9,90.9l5.2,5.2m0,-5.2l-5.2,5.2M634.5,90.1l5.2,5.2m0,-5.2l-5.2,5.2M634.5,92.6l5.2,5.2m0,-5.2l-5.2,5.2M634.5,95.4l5.2,5.2m0,-5.2l-5.2,5.2M645.8,91.4l5.2,5.2m0,-5.2l-5.2,5.2M645.8,93.7l5.2,5.2m0,-5.2l-5.2,5.2M645.8,95.7l5.2,5.2m0,-5.2l-5.2,5.2M671.0,95.4l5.2,5.2m0,-5.2l-5.2,5.2M678.6,90.1l5.2,5.2m0,-5.2l-5.2,5.2M681.8,95.4l5.2,5.2m0,-5.2l-5.2,5.2M687.4,90.1l5.2,5.2m0,-5.2l-5.2,5.2M616.5,214.9l5.2,5.2m0,-5.2l-5.2,5.2M635.5,215.2l5.2,5.2m0,-5.2l-5.2,5.2M641.9,215.2l5.2,5.2m0,-5.2l-5.2,5.2M644.2,215.2l5.2,5.2m0,-5.2l-5.2,5.2M654.7,215.4l5.2,5.2m0,-5.2l-5.2,5.2M658.8,215.4l5.2,5.2m0,-5.2l-5.2,5.2M665.3,215.4l5.2,5.2m0,-5.2l-5.2,5.2M673.0,215.4l5.2,5.2m0,-5.2l-5.2,5.2M677.5,215.4l5.2,5.2m0,-5.2l-5.2,5.2M694.8,215.7l5.2,5.2m0,-5.2l-5.2,5.2M702.7,215.7l5.2,5.2m0,-5.2l-5.2,5.2M714.8,215.4l5.2,5.2m0,-5.2l-5.2,5.2M715.9,215.4l5.2,5.2m0,-5.2l-5.2,5.2M891.6,186.6l5.2,5.2m0,-5.2l-5.2,5.2M833.4,215.2l5.2,5.2m0,-5.2l-5.2,5.2M697.3,306.5l5.2,5.2m0,-5.2l-5.2,5.2M615.7,338.3l5.2,5.2m0,-5.2l-5.2,5.2M773.5,390.6l5.2,5.2m0,-5.2l-5.2,5.2M780.3,390.6l5.2,5.2m0,-5.2l-5.2,5.2M783.1,390.6l5.2,5.2m0,-5.2l-5.2,5.2M786.0,390.6l5.2,5.2m0,-5.2l-5.2,5.2M789.3,390.6l5.2,5.2m0,-5.2l-5.2,5.2M792.7,390.6l5.2,5.2m0,-5.2l-5.2,5.2M796.1,390.6l5.2,5.2m0,-5.2l-5.2,5.2M799.5,390.6l5.2,5.2m0,-5.2l-5.2,5.2M802.9,390.6l5.2,5.2m0,-5.2l-5.2,5.2M806.3,390.6l5.2,5.2m0,-5.2l-5.2,5.2M811.4,390.6l5.2,5.2m0,-5.2l-5.2,5.2M774.7,421.4l5.2,5.2m0,-5.2l-5.2,5.2M778.0,421.4l5.2,5.2m0,-5.2l-5.2,5.2M796.1,421.4l5.2,5.2m0,-5.2l-5.2,5.2M798.2,421.4l5.2,5.2m0,-5.2l-5.2,5.2M800.1,421.4l5.2,5.2m0,-5.2l-5.2,5.2M653.8,390.4l5.2,5.2m0,-5.2l-5.2,5.2M662.4,390.4l5.2,5.2m0,-5.2l-5.2,5.2M666.0,390.4l5.2,5.2m0,-5.2l-5.2,5.2M668.1,390.4l5.2,5.2m0,-5.2l-5.2,5.2M670.3,390.4l5.2,5.2m0,-5.2l-5.2,5.2M672.4,390.4l5.2,5.2m0,-5.2l-5.2,5.2M679.5,390.4l5.2,5.2m0,-5.2l-5.2,5.2M681.7,390.4l5.2,5.2m0,-5.2l-5.2,5.2M683.8,390.4l5.2,5.2m0,-5.2l-5.2,5.2M686.0,390.4l5.2,5.2m0,-5.2l-5.2,5.2M688.1,390.4l5.2,5.2m0,-5.2l-5.2,5.2M691.7,390.4l5.2,5.2m0,-5.2l-5.2,5.2M697.4,390.4l5.2,5.2m0,-5.2l-5.2,5.2M706.7,390.4l5.2,5.2m0,-5.2l-5.2,5.2M717.4,390.4l5.2,5.2m0,-5.2l-5.2,5.2M721.0,390.4l5.2,5.2m0,-5.2l-5.2,5.2M724.5,390.4l5.2,5.2m0,-5.2l-5.2,5.2M736.0,390.4l5.2,5.2m0,-5.2l-5.2,5.2M738.1,390.4l5.2,5.2m0,-5.2l-5.2,5.2M740.3,390.4l5.2,5.2m0,-5.2l-5.2,5.2M742.4,390.4l5.2,5.2m0,-5.2l-5.2,5.2M752.4,390.4l5.2,5.2m0,-5.2l-5.2,5.2M756.0,390.4l5.2,5.2m0,-5.2l-5.2,5.2M758.8,390.4l5.2,5.2m0,-5.2l-5.2,5.2M761.7,390.4l5.2,5.2m0,-5.2l-5.2,5.2M764.5,390.4l5.2,5.2m0,-5.2l-5.2,5.2M767.4,390.4l5.2,5.2m0,-5.2l-5.2,5.2M770.3,390.4l5.2,5.2m0,-5.2l-5.2,5.2M772.4,390.4l5.2,5.2m0,-5.2l-5.2,5.2M691.7,406.7l5.2,5.2m0,-5.2l-5.2,5.2M650.3,421.0l5.2,5.2m0,-5.2l-5.2,5.2M672.4,452.0l5.2,5.2m0,-5.2l-5.2,5.2M711.0,452.8l5.2,5.2m0,-5.2l-5.2,5.2M728.1,421.3l5.2,5.2m0,-5.2l-5.2,5.2M731.0,421.3l5.2,5.2m0,-5.2l-5.2,5.2M733.8,421.3l5.2,5.2m0,-5.2l-5.2,5.2M736.7,421.3l5.2,5.2m0,-5.2l-5.2,5.2M739.5,421.3l5.2,5.2m0,-5.2l-5.2,5.2M742.4,421.3l5.2,5.2m0,-5.2l-5.2,5.2M745.3,421.3l5.2,5.2m0,-5.2l-5.2,5.2M748.1,421.3l5.2,5.2m0,-5.2l-5.2,5.2M751.0,421.3l5.2,5.2m0,-5.2l-5.2,5.2M753.8,421.3l5.2,5.2m0,-5.2l-5.2,5.2M756.7,421.3l5.2,5.2m0,-5.2l-5.2,5.2M761.0,421.0l5.2,5.2m0,-5.2l-5.2,5.2M772.4,421.0l5.2,5.2m0,-5.2l-5.2,5.2M693.1,421.7l5.2,5.2m0,-5.2l-5.2,5.2M718.8,421.7l5.2,5.2m0,-5.2l-5.2,5.2M726.0,429.5l5.2,5.2m0,-5.2l-5.2,5.2M739.5,429.5l5.2,5.2m0,-5.2l-5.2,5.2M715.3,428.1l5.2,5.2m0,-5.2l-5.2,5.2M671.0,420.3l5.2,5.2m0,-5.2l-5.2,5.2M680.9,495.9l5.2,5.2m0,-5.2l-5.2,5.2M682.6,496.5l5.2,5.2m0,-5.2l-5.2,5.2M686.0,495.9l5.2,5.2m0,-5.2l-5.2,5.2M704.0,495.7l5.2,5.2m0,-5.2l-5.2,5.2M706.3,495.9l5.2,5.2m0,-5.2l-5.2,5.2M712.5,496.3l5.2,5.2m0,-5.2l-5.2,5.2M718.2,495.7l5.2,5.2m0,-5.2l-5.2,5.2M720.4,495.7l5.2,5.2m0,-5.2l-5.2,5.2M749.8,495.9l5.2,5.2m0,-5.2l-5.2,5.2M763.9,495.6l5.2,5.2m0,-5.2l-5.2,5.2M767.9,495.6l5.2,5.2m0,-5.2l-5.2,5.2M776.7,496.2l5.2,5.2m0,-5.2l-5.2,5.2M781.2,496.7l5.2,5.2m0,-5.2l-5.2,5.2" stroke="#ae2a1c" stroke-width="1.2" fill="none"/>
<path d="M854.7,144.5l5.2,5.2m0,-5.2l-5.2,5.2M893.3,153.6l5.2,5.2m0,-5.2l-5.2,5.2M737.6,178.8l5.2,5.2m0,-5.2l-5.2,5.2M740.5,179.0l5.2,5.2m0,-5.2l-5.2,5.2M766.2,179.0l5.2,5.2m0,-5.2l-5.2,5.2M769.9,182.7l5.2,5.2m0,-5.2l-5.2,5.2M732.9,242.8l5.2,5.2m0,-5.2l-5.2,5.2M736.2,242.3l5.2,5.2m0,-5.2l-5.2,5.2M800.6,184.7l5.2,5.2m0,-5.2l-5.2,5.2M801.2,185.2l5.2,5.2m0,-5.2l-5.2,5.2M831.2,179.2l5.2,5.2m0,-5.2l-5.2,5.2M859.1,185.0l5.2,5.2m0,-5.2l-5.2,5.2M794.4,242.3l5.2,5.2m0,-5.2l-5.2,5.2M801.6,242.3l5.2,5.2m0,-5.2l-5.2,5.2M806.1,242.3l5.2,5.2m0,-5.2l-5.2,5.2M722.7,287.5l5.2,5.2m0,-5.2l-5.2,5.2M594.4,327.0l5.2,5.2m0,-5.2l-5.2,5.2M615.3,327.4l5.2,5.2m0,-5.2l-5.2,5.2M730.4,327.9l5.2,5.2m0,-5.2l-5.2,5.2M732.3,327.9l5.2,5.2m0,-5.2l-5.2,5.2M722.7,336.1l5.2,5.2m0,-5.2l-5.2,5.2M730.8,337.2l5.2,5.2m0,-5.2l-5.2,5.2M769.2,328.5l5.2,5.2m0,-5.2l-5.2,5.2M847.9,329.1l5.2,5.2m0,-5.2l-5.2,5.2M779.4,370.3l5.2,5.2m0,-5.2l-5.2,5.2M805.7,370.3l5.2,5.2m0,-5.2l-5.2,5.2M816.5,370.3l5.2,5.2m0,-5.2l-5.2,5.2M822.1,370.3l5.2,5.2m0,-5.2l-5.2,5.2M834.0,370.3l5.2,5.2m0,-5.2l-5.2,5.2M850.4,370.3l5.2,5.2m0,-5.2l-5.2,5.2M791.6,401.4l5.2,5.2m0,-5.2l-5.2,5.2M616.7,407.8l5.2,5.2m0,-5.2l-5.2,5.2M616.7,411.2l5.2,5.2m0,-5.2l-5.2,5.2M635.7,407.8l5.2,5.2m0,-5.2l-5.2,5.2M635.7,411.2l5.2,5.2m0,-5.2l-5.2,5.2M645.8,405.5l5.2,5.2m0,-5.2l-5.2,5.2M646.4,409.5l5.2,5.2m0,-5.2l-5.2,5.2M646.4,412.3l5.2,5.2m0,-5.2l-5.2,5.2M752.0,370.3l5.2,5.2m0,-5.2l-5.2,5.2M757.4,370.3l5.2,5.2m0,-5.2l-5.2,5.2M761.7,370.3l5.2,5.2m0,-5.2l-5.2,5.2M769.9,370.3l5.2,5.2m0,-5.2l-5.2,5.2M682.4,381.9l5.2,5.2m0,-5.2l-5.2,5.2M703.1,382.6l5.2,5.2m0,-5.2l-5.2,5.2M767.2,381.7l5.2,5.2m0,-5.2l-5.2,5.2M732.4,387.4l5.2,5.2m0,-5.2l-5.2,5.2M744.2,393.8l5.2,5.2m0,-5.2l-5.2,5.2M649.5,406.0l5.2,5.2m0,-5.2l-5.2,5.2M653.1,405.3l5.2,5.2m0,-5.2l-5.2,5.2M655.3,408.8l5.2,5.2m0,-5.2l-5.2,5.2M660.6,405.3l5.2,5.2m0,-5.2l-5.2,5.2M665.3,408.8l5.2,5.2m0,-5.2l-5.2,5.2M670.3,408.1l5.2,5.2m0,-5.2l-5.2,5.2M675.3,408.1l5.2,5.2m0,-5.2l-5.2,5.2M681.0,408.1l5.2,5.2m0,-5.2l-5.2,5.2M683.1,406.7l5.2,5.2m0,-5.2l-5.2,5.2M686.0,406.0l5.2,5.2m0,-5.2l-5.2,5.2M684.5,411.7l5.2,5.2m0,-5.2l-5.2,5.2M690.3,406.7l5.2,5.2m0,-5.2l-5.2,5.2M697.4,407.4l5.2,5.2m0,-5.2l-5.2,5.2M700.3,408.1l5.2,5.2m0,-5.2l-5.2,5.2M704.5,405.3l5.2,5.2m0,-5.2l-5.2,5.2M708.8,403.8l5.2,5.2m0,-5.2l-5.2,5.2M711.7,402.4l5.2,5.2m0,-5.2l-5.2,5.2M715.3,403.8l5.2,5.2m0,-5.2l-5.2,5.2M718.8,406.7l5.2,5.2m0,-5.2l-5.2,5.2M722.4,408.1l5.2,5.2m0,-5.2l-5.2,5.2M726.0,406.0l5.2,5.2m0,-5.2l-5.2,5.2M729.5,408.1l5.2,5.2m0,-5.2l-5.2,5.2M734.5,406.7l5.2,5.2m0,-5.2l-5.2,5.2M739.5,408.8l5.2,5.2m0,-5.2l-5.2,5.2M743.8,406.7l5.2,5.2m0,-5.2l-5.2,5.2M747.4,408.1l5.2,5.2m0,-5.2l-5.2,5.2M751.0,407.4l5.2,5.2m0,-5.2l-5.2,5.2M758.8,406.7l5.2,5.2m0,-5.2l-5.2,5.2M768.1,407.4l5.2,5.2m0,-5.2l-5.2,5.2M763.8,415.3l5.2,5.2m0,-5.2l-5.2,5.2M747.4,415.3l5.2,5.2m0,-5.2l-5.2,5.2M728.1,415.3l5.2,5.2m0,-5.2l-5.2,5.2M724.5,413.8l5.2,5.2m0,-5.2l-5.2,5.2M706.0,415.3l5.2,5.2m0,-5.2l-5.2,5.2M664.5,416.7l5.2,5.2m0,-5.2l-5.2,5.2M647.4,411.7l5.2,5.2m0,-5.2l-5.2,5.2M691.7,398.1l5.2,5.2m0,-5.2l-5.2,5.2M693.8,399.5l5.2,5.2m0,-5.2l-5.2,5.2M698.8,401.0l5.2,5.2m0,-5.2l-5.2,5.2M701.7,398.8l5.2,5.2m0,-5.2l-5.2,5.2M706.0,396.7l5.2,5.2m0,-5.2l-5.2,5.2M708.1,399.5l5.2,5.2m0,-5.2l-5.2,5.2M710.3,401.7l5.2,5.2m0,-5.2l-5.2,5.2M664.5,418.1l5.2,5.2m0,-5.2l-5.2,5.2M649.5,429.5l5.2,5.2m0,-5.2l-5.2,5.2M658.8,432.4l5.2,5.2m0,-5.2l-5.2,5.2M661.7,436.3l5.2,5.2m0,-5.2l-5.2,5.2M668.5,437.4l5.2,5.2m0,-5.2l-5.2,5.2M679.9,429.9l5.2,5.2m0,-5.2l-5.2,5.2M678.8,441.7l5.2,5.2m0,-5.2l-5.2,5.2M683.8,441.7l5.2,5.2m0,-5.2l-5.2,5.2M690.3,430.3l5.2,5.2m0,-5.2l-5.2,5.2M693.1,434.2l5.2,5.2m0,-5.2l-5.2,5.2M697.4,431.7l5.2,5.2m0,-5.2l-5.2,5.2M700.3,433.1l5.2,5.2m0,-5.2l-5.2,5.2M691.7,445.3l5.2,5.2m0,-5.2l-5.2,5.2M691.7,447.4l5.2,5.2m0,-5.2l-5.2,5.2M691.0,451.0l5.2,5.2m0,-5.2l-5.2,5.2M700.1,446.7l5.2,5.2m0,-5.2l-5.2,5.2M661.0,451.0l5.2,5.2m0,-5.2l-5.2,5.2M713.1,443.8l5.2,5.2m0,-5.2l-5.2,5.2M715.3,446.0l5.2,5.2m0,-5.2l-5.2,5.2M718.8,444.9l5.2,5.2m0,-5.2l-5.2,5.2M721.0,446.0l5.2,5.2m0,-5.2l-5.2,5.2M724.2,448.8l5.2,5.2m0,-5.2l-5.2,5.2M732.8,445.6l5.2,5.2m0,-5.2l-5.2,5.2M767.4,442.0l5.2,5.2m0,-5.2l-5.2,5.2M764.2,445.3l5.2,5.2m0,-5.2l-5.2,5.2M721.7,433.1l5.2,5.2m0,-5.2l-5.2,5.2M729.5,434.5l5.2,5.2m0,-5.2l-5.2,5.2M708.1,433.8l5.2,5.2m0,-5.2l-5.2,5.2M704.5,436.0l5.2,5.2m0,-5.2l-5.2,5.2M703.8,418.1l5.2,5.2m0,-5.2l-5.2,5.2M718.8,418.1l5.2,5.2m0,-5.2l-5.2,5.2M704.5,471.0l5.2,5.2m0,-5.2l-5.2,5.2M708.8,471.7l5.2,5.2m0,-5.2l-5.2,5.2M713.1,471.0l5.2,5.2m0,-5.2l-5.2,5.2M748.8,471.0l5.2,5.2m0,-5.2l-5.2,5.2M676.0,472.4l5.2,5.2m0,-5.2l-5.2,5.2M615.1,446.0l5.2,5.2m0,-5.2l-5.2,5.2M628.7,444.5l5.2,5.2m0,-5.2l-5.2,5.2M637.7,474.7l5.2,5.2m0,-5.2l-5.2,5.2M640.2,475.0l5.2,5.2m0,-5.2l-5.2,5.2M627.5,492.2l5.2,5.2m0,-5.2l-5.2,5.2M676.1,473.7l5.2,5.2m0,-5.2l-5.2,5.2M681.8,475.4l5.2,5.2m0,-5.2l-5.2,5.2M692.7,475.4l5.2,5.2m0,-5.2l-5.2,5.2M700.6,473.3l5.2,5.2m0,-5.2l-5.2,5.2M704.0,471.6l5.2,5.2m0,-5.2l-5.2,5.2M708.0,472.8l5.2,5.2m0,-5.2l-5.2,5.2M711.9,473.3l5.2,5.2m0,-5.2l-5.2,5.2M715.9,477.9l5.2,5.2m0,-5.2l-5.2,5.2M713.6,471.6l5.2,5.2m0,-5.2l-5.2,5.2M707.4,482.9l5.2,5.2m0,-5.2l-5.2,5.2M709.7,485.8l5.2,5.2m0,-5.2l-5.2,5.2M713.6,484.6l5.2,5.2m0,-5.2l-5.2,5.2M725.5,484.6l5.2,5.2m0,-5.2l-5.2,5.2M739.1,485.8l5.2,5.2m0,-5.2l-5.2,5.2M747.5,483.5l5.2,5.2m0,-5.2l-5.2,5.2M760.0,483.5l5.2,5.2m0,-5.2l-5.2,5.2M764.5,485.8l5.2,5.2m0,-5.2l-5.2,5.2M673.5,492.0l5.2,5.2m0,-5.2l-5.2,5.2M686.0,492.0l5.2,5.2m0,-5.2l-5.2,5.2M691.6,492.0l5.2,5.2m0,-5.2l-5.2,5.2M749.2,472.0l5.2,5.2m0,-5.2l-5.2,5.2M820.8,443.6l5.2,5.2m0,-5.2l-5.2,5.2M817.4,486.6l5.2,5.2m0,-5.2l-5.2,5.2M615.7,543.4l5.2,5.2m0,-5.2l-5.2,5.2M663.7,543.4l5.2,5.2m0,-5.2l-5.2,5.2" stroke="#552b8e" stroke-width="1.2" fill="none"/>
<path d="M732.6,235.0l6.8,6.8m0,-6.8l-6.8,6.8M779.3,171.8l6.8,6.8m0,-6.8l-6.8,6.8M878.4,171.4l6.8,6.8m0,-6.8l-6.8,6.8M914.9,171.8l6.8,6.8m0,-6.8l-6.8,6.8M782.9,400.2l6.8,6.8m0,-6.8l-6.8,6.8M784.6,398.0l6.8,6.8m0,-6.8l-6.8,6.8M786.3,400.2l6.8,6.8m0,-6.8l-6.8,6.8M788.0,396.8l6.8,6.8m0,-6.8l-6.8,6.8M785.2,402.5l6.8,6.8m0,-6.8l-6.8,6.8M799.8,401.4l6.8,6.8m0,-6.8l-6.8,6.8M784.6,416.0l6.8,6.8m0,-6.8l-6.8,6.8M782.9,427.3l6.8,6.8m0,-6.8l-6.8,6.8M786.3,427.9l6.8,6.8m0,-6.8l-6.8,6.8M771.6,428.5l6.8,6.8m0,-6.8l-6.8,6.8M597.0,421.1l6.8,6.8m0,-6.8l-6.8,6.8M605.5,420.6l6.8,6.8m0,-6.8l-6.8,6.8M598.7,426.2l6.8,6.8m0,-6.8l-6.8,6.8M675.5,377.0l6.8,6.8m0,-6.8l-6.8,6.8M720.2,377.0l6.8,6.8m0,-6.8l-6.8,6.8M725.2,370.9l6.8,6.8m0,-6.8l-6.8,6.8M728.7,372.3l6.8,6.8m0,-6.8l-6.8,6.8M732.3,370.9l6.8,6.8m0,-6.8l-6.8,6.8M735.9,373.0l6.8,6.8m0,-6.8l-6.8,6.8M739.5,370.9l6.8,6.8m0,-6.8l-6.8,6.8M743.0,370.9l6.8,6.8m0,-6.8l-6.8,6.8M730.9,375.9l6.8,6.8m0,-6.8l-6.8,6.8M733.7,378.7l6.8,6.8m0,-6.8l-6.8,6.8M727.3,379.5l6.8,6.8m0,-6.8l-6.8,6.8M723.7,382.3l6.8,6.8m0,-6.8l-6.8,6.8M730.9,383.7l6.8,6.8m0,-6.8l-6.8,6.8M740.2,383.0l6.8,6.8m0,-6.8l-6.8,6.8M760.9,372.3l6.8,6.8m0,-6.8l-6.8,6.8M750.9,386.6l6.8,6.8m0,-6.8l-6.8,6.8M678.0,395.2l6.8,6.8m0,-6.8l-6.8,6.8M675.2,392.3l6.8,6.8m0,-6.8l-6.8,6.8M688.0,395.2l6.8,6.8m0,-6.8l-6.8,6.8M692.3,391.6l6.8,6.8m0,-6.8l-6.8,6.8M696.6,393.0l6.8,6.8m0,-6.8l-6.8,6.8M699.5,395.2l6.8,6.8m0,-6.8l-6.8,6.8M702.3,390.2l6.8,6.8m0,-6.8l-6.8,6.8M707.3,392.3l6.8,6.8m0,-6.8l-6.8,6.8M710.9,391.6l6.8,6.8m0,-6.8l-6.8,6.8M714.5,394.5l6.8,6.8m0,-6.8l-6.8,6.8M718.0,393.0l6.8,6.8m0,-6.8l-6.8,6.8M721.6,395.9l6.8,6.8m0,-6.8l-6.8,6.8M725.2,393.7l6.8,6.8m0,-6.8l-6.8,6.8M728.7,397.3l6.8,6.8m0,-6.8l-6.8,6.8M732.3,398.7l6.8,6.8m0,-6.8l-6.8,6.8M735.9,395.2l6.8,6.8m0,-6.8l-6.8,6.8M725.2,398.7l6.8,6.8m0,-6.8l-6.8,6.8M720.9,399.5l6.8,6.8m0,-6.8l-6.8,6.8M716.6,398.0l6.8,6.8m0,-6.8l-6.8,6.8M745.2,398.7l6.8,6.8m0,-6.8l-6.8,6.8M743.0,401.6l6.8,6.8m0,-6.8l-6.8,6.8M739.5,404.5l6.8,6.8m0,-6.8l-6.8,6.8M755.9,397.3l6.8,6.8m0,-6.8l-6.8,6.8M758.7,393.7l6.8,6.8m0,-6.8l-6.8,6.8M762.3,398.7l6.8,6.8m0,-6.8l-6.8,6.8M765.2,401.6l6.8,6.8m0,-6.8l-6.8,6.8M768.0,395.9l6.8,6.8m0,-6.8l-6.8,6.8M756.6,403.0l6.8,6.8m0,-6.8l-6.8,6.8M760.9,405.9l6.8,6.8m0,-6.8l-6.8,6.8M667.3,412.3l6.8,6.8m0,-6.8l-6.8,6.8M688.0,411.6l6.8,6.8m0,-6.8l-6.8,6.8M692.3,413.0l6.8,6.8m0,-6.8l-6.8,6.8M700.9,410.9l6.8,6.8m0,-6.8l-6.8,6.8M703.7,413.0l6.8,6.8m0,-6.8l-6.8,6.8M710.9,410.9l6.8,6.8m0,-6.8l-6.8,6.8M715.2,413.0l6.8,6.8m0,-6.8l-6.8,6.8M718.0,411.6l6.8,6.8m0,-6.8l-6.8,6.8M739.5,411.6l6.8,6.8m0,-6.8l-6.8,6.8M743.0,413.0l6.8,6.8m0,-6.8l-6.8,6.8M752.3,411.6l6.8,6.8m0,-6.8l-6.8,6.8M768.0,391.6l6.8,6.8m0,-6.8l-6.8,6.8M670.2,421.6l6.8,6.8m0,-6.8l-6.8,6.8M673.7,423.0l6.8,6.8m0,-6.8l-6.8,6.8M680.9,421.6l6.8,6.8m0,-6.8l-6.8,6.8M685.2,422.3l6.8,6.8m0,-6.8l-6.8,6.8M695.2,423.0l6.8,6.8m0,-6.8l-6.8,6.8M698.7,423.7l6.8,6.8m0,-6.8l-6.8,6.8M702.3,423.0l6.8,6.8m0,-6.8l-6.8,6.8M705.9,424.5l6.8,6.8m0,-6.8l-6.8,6.8M709.5,423.0l6.8,6.8m0,-6.8l-6.8,6.8M713.0,424.5l6.8,6.8m0,-6.8l-6.8,6.8M716.6,423.0l6.8,6.8m0,-6.8l-6.8,6.8M720.2,424.5l6.8,6.8m0,-6.8l-6.8,6.8M723.7,425.2l6.8,6.8m0,-6.8l-6.8,6.8M707.3,428.7l6.8,6.8m0,-6.8l-6.8,6.8M710.9,430.9l6.8,6.8m0,-6.8l-6.8,6.8M714.5,433.0l6.8,6.8m0,-6.8l-6.8,6.8M718.0,434.5l6.8,6.8m0,-6.8l-6.8,6.8M696.6,434.5l6.8,6.8m0,-6.8l-6.8,6.8M699.5,437.3l6.8,6.8m0,-6.8l-6.8,6.8M695.9,440.2l6.8,6.8m0,-6.8l-6.8,6.8M702.3,439.5l6.8,6.8m0,-6.8l-6.8,6.8M705.2,437.3l6.8,6.8m0,-6.8l-6.8,6.8M728.7,429.5l6.8,6.8m0,-6.8l-6.8,6.8M732.3,432.3l6.8,6.8m0,-6.8l-6.8,6.8M735.9,430.9l6.8,6.8m0,-6.8l-6.8,6.8M739.5,434.5l6.8,6.8m0,-6.8l-6.8,6.8M728.7,437.3l6.8,6.8m0,-6.8l-6.8,6.8M732.3,440.2l6.8,6.8m0,-6.8l-6.8,6.8M735.9,440.2l6.8,6.8m0,-6.8l-6.8,6.8M738.0,437.3l6.8,6.8m0,-6.8l-6.8,6.8M745.2,430.9l6.8,6.8m0,-6.8l-6.8,6.8M748.7,433.0l6.8,6.8m0,-6.8l-6.8,6.8M752.3,429.5l6.8,6.8m0,-6.8l-6.8,6.8M755.9,430.9l6.8,6.8m0,-6.8l-6.8,6.8M758.0,428.7l6.8,6.8m0,-6.8l-6.8,6.8M753.7,434.5l6.8,6.8m0,-6.8l-6.8,6.8M768.0,429.1l6.8,6.8m0,-6.8l-6.8,6.8M770.9,429.5l6.8,6.8m0,-6.8l-6.8,6.8M649.5,467.3l6.8,6.8m0,-6.8l-6.8,6.8M655.2,467.3l6.8,6.8m0,-6.8l-6.8,6.8M708.7,466.6l6.8,6.8m0,-6.8l-6.8,6.8M740.2,466.6l6.8,6.8m0,-6.8l-6.8,6.8M742.3,466.6l6.8,6.8m0,-6.8l-6.8,6.8M744.5,466.6l6.8,6.8m0,-6.8l-6.8,6.8M767.3,467.0l6.8,6.8m0,-6.8l-6.8,6.8M633.0,468.6l6.8,6.8m0,-6.8l-6.8,6.8M690.2,485.0l6.8,6.8m0,-6.8l-6.8,6.8M717.4,485.5l6.8,6.8m0,-6.8l-6.8,6.8M723.0,485.5l6.8,6.8m0,-6.8l-6.8,6.8M730.9,485.0l6.8,6.8m0,-6.8l-6.8,6.8M734.3,485.0l6.8,6.8m0,-6.8l-6.8,6.8M743.4,485.5l6.8,6.8m0,-6.8l-6.8,6.8M752.4,485.5l6.8,6.8m0,-6.8l-6.8,6.8M666.1,422.2l6.8,6.8m0,-6.8l-6.8,6.8M673.4,421.4l6.8,6.8m0,-6.8l-6.8,6.8M680.7,422.2l6.8,6.8m0,-6.8l-6.8,6.8M687.9,421.8l6.8,6.8m0,-6.8l-6.8,6.8M778.4,431.9l6.8,6.8m0,-6.8l-6.8,6.8M778.4,439.8l6.8,6.8m0,-6.8l-6.8,6.8M782.9,437.5l6.8,6.8m0,-6.8l-6.8,6.8M783.5,440.9l6.8,6.8m0,-6.8l-6.8,6.8M824.7,433.6l6.8,6.8m0,-6.8l-6.8,6.8M703.8,538.9l6.8,6.8m0,-6.8l-6.8,6.8M706.6,538.9l6.8,6.8m0,-6.8l-6.8,6.8M708.9,538.9l6.8,6.8m0,-6.8l-6.8,6.8M715.7,538.9l6.8,6.8m0,-6.8l-6.8,6.8M717.9,538.9l6.8,6.8m0,-6.8l-6.8,6.8M720.2,538.9l6.8,6.8m0,-6.8l-6.8,6.8M725.3,538.6l6.8,6.8m0,-6.8l-6.8,6.8M753.0,538.4l6.8,6.8m0,-6.8l-6.8,6.8M762.0,538.4l6.8,6.8m0,-6.8l-6.8,6.8M768.2,538.6l6.8,6.8m0,-6.8l-6.8,6.8" stroke="#92c047" stroke-width="1.1" fill="none"/>
</g>
<text class="sf bd" y="80.9" font-size="20"><tspan x="566.65">0.001</tspan></text>
<text class="sf bd" y="80.9" font-size="20"><tspan x="632.3">0.01</tspan></text>
<text class="sf bd" y="80.9" font-size="20"><tspan x="697.75">0.1</tspan></text>
<text class="sf bd" y="80.9" font-size="20"><tspan x="765.15">1</tspan></text>
<text class="sf bd" y="80.9" font-size="20"><tspan x="825.85">10</tspan></text>
<text class="sf bd" y="80.9" font-size="20"><tspan x="886.2">100</tspan></text>
<text class="sf bd" y="80.9" font-size="20"><tspan x="946.4">1000</tspan></text>
<text class="sf bd" y="56.4" font-size="23"><tspan x="682.9" letter-spacing="1.03">Permeability/mD</tspan></text>
<text class="sf bd" y="643" font-size="23"><tspan x="895" letter-spacing="0.91">n=378</tspan></text>
<path d="M462.5,164.2L457.1,171.0M449.3,181.1Q446.5,184.6 443.7,187.8M436.5,195.9Q433.4,199.1 430.3,202.0M422.5,208.7Q419.0,211.4 415.4,213.8M406.6,219.3Q402.8,221.4 399.0,223.5M389.4,228.0Q385.5,229.8 381.5,231.6M372.1,235.7Q368.1,237.4 364.1,239.1M354.1,243.1Q350.2,244.9 346.4,247.0M337.1,252.0Q333.5,254.7 330.6,257.9M323.7,265.5Q321.9,269.8 323.3,274.2M329.3,282.2Q331.9,285.7 334.9,288.8M343.1,295.3Q346.4,298.1 349.7,300.9M357.7,307.3Q361.0,310.1 364.3,313.0M372.3,320.2Q375.5,323.2 378.6,326.2M385.6,333.5Q388.5,336.8 391.3,340.2M397.7,348.6Q400.2,352.2 402.6,355.8M408.0,364.7Q410.1,368.6 411.8,372.6M415.6,382.4Q416.7,386.6 417.4,390.9M418.1,401.4Q418.0,405.7 417.5,410.0M415.1,420.4Q414.0,424.6 412.5,428.7M408.4,438.1Q406.5,442.0 404.3,445.8M398.6,454.6Q396.2,458.2 393.7,461.8M387.1,470.4Q384.4,473.8 381.7,477.2M375.2,485.1Q372.4,488.4 369.5,491.7M362.5,499.5Q359.6,502.7 356.6,505.9M349.6,513.4Q346.5,516.5 343.4,519.6M335.7,526.9Q332.5,529.8 329.3,532.7M321.4,539.4Q318.1,542.2 314.8,545.0M306.6,551.7Q303.2,554.4 299.8,557.1M291.5,563.2Q288.0,565.8 284.5,568.4M276.1,574.8L269.1,580.0" fill="none" stroke="#4a78c6" stroke-width="4.1"/>
<path d="M934.7,164.2L929.3,171.0M921.5,181.1Q918.7,184.6 915.9,187.8M908.7,195.9Q905.6,199.1 902.5,202.0M894.7,208.7Q891.2,211.4 887.6,213.8M878.8,219.3Q875.0,221.4 871.2,223.5M861.6,228.0Q857.7,229.8 853.7,231.6M844.3,235.7Q840.3,237.4 836.3,239.1M826.3,243.1Q822.4,244.9 818.6,247.0M809.3,252.0Q805.7,254.7 802.8,257.9M795.9,265.5Q794.1,269.8 795.5,274.2M801.5,282.2Q804.1,285.7 807.1,288.8M815.3,295.3Q818.6,298.1 821.9,300.9M829.9,307.3Q833.2,310.1 836.5,313.0M844.5,320.2Q847.7,323.2 850.8,326.2M857.8,333.5Q860.7,336.8 863.5,340.2M869.9,348.6Q872.4,352.2 874.8,355.8M880.2,364.7Q882.3,368.6 884.0,372.6M887.8,382.4Q888.9,386.6 889.6,390.9M890.3,401.4Q890.2,405.7 889.7,410.0M887.3,420.4Q886.2,424.6 884.7,428.7M880.6,438.1Q878.7,442.0 876.5,445.8M870.8,454.6Q868.4,458.2 865.9,461.8M859.3,470.4Q856.6,473.8 853.9,477.2M847.4,485.1Q844.6,488.4 841.7,491.7M834.7,499.5Q831.8,502.7 828.8,505.9M821.8,513.4Q818.7,516.5 815.6,519.6M807.9,526.9Q804.7,529.8 801.5,532.7M793.6,539.4Q790.3,542.2 787.0,545.0M778.8,551.7Q775.4,554.4 772.0,557.1M763.7,563.2Q760.2,565.8 756.7,568.4M748.3,574.8L741.3,580.0" fill="none" stroke="#e8913c" stroke-width="4.1"/>
<path d="M238.3,693.3L252.7,707.7M238.3,707.7L252.7,693.3" stroke="#2f6cc0" stroke-width="3.0" fill="none"/>
<path d="M238.3,731.1999999999999L252.7,745.6M238.3,745.6L252.7,731.1999999999999" stroke="#5a2d91" stroke-width="3.0" fill="none"/>
<path d="M539.0,693.3L553.4000000000001,707.7M539.0,707.7L553.4000000000001,693.3" stroke="#ae2020" stroke-width="3.0" fill="none"/>
<path d="M538.4,731.1999999999999L552.8000000000001,745.6M538.4,745.6L552.8000000000001,731.1999999999999" stroke="#8fc046" stroke-width="3.0" fill="none"/>
<text class="sf bd" y="709.5" font-size="24"><tspan x="265.8" letter-spacing="0.33">Yanghugou</tspan> <tspan x="385.1" letter-spacing="0.52">formation</tspan></text>
<text class="sf bd" y="746.9" font-size="24"><tspan x="267.4" letter-spacing="0.11">Shanxi</tspan> <tspan x="343.2" letter-spacing="0.42">formation</tspan></text>
<text class="sf bd" y="709.5" font-size="24"><tspan x="569.8" letter-spacing="0.34">Taiyuan</tspan> <tspan x="656.2" letter-spacing="0.52">formation</tspan></text>
<text class="sf bd" y="746.9" font-size="24"><tspan x="572.1" letter-spacing="-1.08">He</tspan> <tspan x="606.1">8</tspan> <tspan x="623.5" letter-spacing="0.29">member</tspan></text>
<line x1="1214.3" y1="98.7" x2="1065.6" y2="246.3" stroke="#000" stroke-width="3.3" stroke-dasharray="13.2 6.57" stroke-dashoffset="-0.15"/>
<line x1="1363.0" y1="98.7" x2="1065.6" y2="393.9" stroke="#000" stroke-width="3.3" stroke-dasharray="13.2 7.37" stroke-dashoffset="-2.46"/>
<line x1="1511.8" y1="98.7" x2="1065.6" y2="541.5" stroke="#000" stroke-width="3.3" stroke-dasharray="13.2 7.01" stroke-dashoffset="7.1"/>
<line x1="1065.6" y1="98.7" x2="1363.0" y2="393.9" stroke="#000" stroke-width="3"/>
<line x1="1065.6" y1="689.1" x2="1660.5" y2="98.7" stroke="#000" stroke-width="3.4"/>
<g id="pts-b">
<path d="M1082.8,661.9h10.2v10.2h-10.2zM1090.2,639.7h10.2v10.2h-10.2zM1105.1,639.7h10.2v10.2h-10.2zM1120.0,617.6h10.2v10.2h-10.2zM1134.9,610.2h10.2v10.2h-10.2zM1142.3,602.8h10.2v10.2h-10.2zM1149.7,595.4h10.2v10.2h-10.2zM1157.2,588.1h10.2v10.2h-10.2zM1164.6,580.7h10.2v10.2h-10.2zM1172.0,573.3h10.2v10.2h-10.2zM1164.6,565.9h10.2v10.2h-10.2zM1164.6,558.5h10.2v10.2h-10.2zM1179.5,565.9h10.2v10.2h-10.2zM1179.5,554.1h10.2v10.2h-10.2zM1186.9,558.5h10.2v10.2h-10.2zM1194.4,551.2h10.2v10.2h-10.2zM1194.4,536.4h10.2v10.2h-10.2zM1201.8,543.8h10.2v10.2h-10.2zM1209.2,536.4h10.2v10.2h-10.2zM1216.7,529.0h10.2v10.2h-10.2zM1224.1,521.6h10.2v10.2h-10.2zM1231.5,514.3h10.2v10.2h-10.2zM1239.0,506.9h10.2v10.2h-10.2zM1246.4,499.5h10.2v10.2h-10.2zM1253.8,492.1h10.2v10.2h-10.2zM1261.3,484.7h10.2v10.2h-10.2zM1268.7,477.4h10.2v10.2h-10.2zM1276.2,470.0h10.2v10.2h-10.2zM1283.6,462.6h10.2v10.2h-10.2zM1291.0,455.2h10.2v10.2h-10.2zM1298.5,447.8h10.2v10.2h-10.2zM1305.9,440.5h10.2v10.2h-10.2zM1313.3,433.1h10.2v10.2h-10.2zM1320.8,425.7h10.2v10.2h-10.2zM1328.2,418.3h10.2v10.2h-10.2zM1335.6,410.9h10.2v10.2h-10.2zM1343.1,403.6h10.2v10.2h-10.2zM1209.2,506.9h10.2v10.2h-10.2zM1224.1,477.4h10.2v10.2h-10.2zM1239.0,492.1h10.2v10.2h-10.2zM1246.4,484.7h10.2v10.2h-10.2zM1253.8,477.4h10.2v10.2h-10.2zM1253.8,462.6h10.2v10.2h-10.2zM1268.7,470.0h10.2v10.2h-10.2zM1253.8,403.6h10.2v10.2h-10.2zM1298.5,403.6h10.2v10.2h-10.2zM1231.5,433.1h10.2v10.2h-10.2zM1239.0,447.8h10.2v10.2h-10.2zM1298.5,418.3h10.2v10.2h-10.2zM1298.5,425.7h10.2v10.2h-10.2zM1298.5,433.1h10.2v10.2h-10.2zM1283.6,440.5h10.2v10.2h-10.2zM1276.2,447.8h10.2v10.2h-10.2zM1283.6,447.8h10.2v10.2h-10.2zM1291.0,447.8h10.2v10.2h-10.2zM1343.1,396.2h10.2v10.2h-10.2zM1343.1,388.8h10.2v10.2h-10.2zM1358.0,388.8h10.2v10.2h-10.2zM1358.0,374.0h10.2v10.2h-10.2zM1372.8,374.0h10.2v10.2h-10.2zM1387.7,359.3h10.2v10.2h-10.2zM1395.1,351.9h10.2v10.2h-10.2zM1402.6,344.5h10.2v10.2h-10.2zM1424.9,322.4h10.2v10.2h-10.2zM1595.9,152.6h10.2v10.2h-10.2zM1648.0,98.8h10.2v10.2h-10.2z" fill="#5ba6df"/>
<path d="M1080.5,669.4l4.7,9.8h-9.4zM1110.2,625.2l4.7,9.8h-9.4zM1125.1,625.2l4.7,9.8h-9.4zM1140.0,610.4l4.7,9.8h-9.4zM1125.1,580.9l4.7,9.8h-9.4zM1154.8,573.5l4.7,9.8h-9.4zM1169.7,558.7l4.7,9.8h-9.4zM1169.7,580.9l4.7,9.8h-9.4zM1166.7,585.3l4.7,9.8h-9.4zM1184.6,566.1l4.7,9.8h-9.4zM1192.0,544.0l4.7,9.8h-9.4zM1199.5,544.0l4.7,9.8h-9.4zM1192.0,558.7l4.7,9.8h-9.4zM1199.5,551.4l4.7,9.8h-9.4zM1206.9,544.0l4.7,9.8h-9.4zM1214.3,536.6l4.7,9.8h-9.4zM1214.3,529.2l4.7,9.8h-9.4zM1221.8,529.2l4.7,9.8h-9.4zM1206.9,521.8l4.7,9.8h-9.4zM1221.8,513.0l4.7,9.8h-9.4zM1229.2,514.5l4.7,9.8h-9.4zM1236.6,514.5l4.7,9.8h-9.4zM1229.2,521.8l4.7,9.8h-9.4zM1236.6,499.7l4.7,9.8h-9.4zM1244.1,492.3l4.7,9.8h-9.4zM1244.1,499.7l4.7,9.8h-9.4zM1244.1,507.1l4.7,9.8h-9.4zM1251.5,499.7l4.7,9.8h-9.4zM1258.9,484.9l4.7,9.8h-9.4zM1258.9,492.3l4.7,9.8h-9.4zM1266.4,470.2l4.7,9.8h-9.4zM1266.4,477.6l4.7,9.8h-9.4zM1266.4,484.9l4.7,9.8h-9.4zM1273.8,477.6l4.7,9.8h-9.4zM1288.7,462.8l4.7,9.8h-9.4zM1258.9,448.0l4.7,9.8h-9.4zM1296.1,455.4l4.7,9.8h-9.4zM1303.6,448.0l4.7,9.8h-9.4zM1311.0,440.7l4.7,9.8h-9.4zM1311.0,433.3l4.7,9.8h-9.4zM1318.4,433.3l4.7,9.8h-9.4zM1318.4,418.5l4.7,9.8h-9.4zM1325.9,425.9l4.7,9.8h-9.4zM1333.3,418.5l4.7,9.8h-9.4zM1333.3,411.1l4.7,9.8h-9.4zM1340.7,411.1l4.7,9.8h-9.4zM1348.2,403.8l4.7,9.8h-9.4zM1355.6,396.4l4.7,9.8h-9.4zM1363.0,389.0l4.7,9.8h-9.4zM1370.5,381.6l4.7,9.8h-9.4zM1377.9,374.2l4.7,9.8h-9.4zM1392.8,359.5l4.7,9.8h-9.4zM1400.2,352.1l4.7,9.8h-9.4zM1407.7,344.7l4.7,9.8h-9.4zM1422.5,330.0l4.7,9.8h-9.4zM1340.7,322.6l4.7,9.8h-9.4zM1452.3,300.4l4.7,9.8h-9.4zM1489.5,263.5l4.7,9.8h-9.4zM1526.6,226.6l4.7,9.8h-9.4zM1623.3,130.7l4.7,9.8h-9.4z" fill="#d9933d" stroke="#eaae1e" stroke-width="1.1" stroke-linejoin="miter"/>
<path d="M1120.5,607.9h9.2M1125.1,603.3v9.2M1157.7,588.7h9.2M1162.3,584.1v9.2M1194.9,556.3h9.2M1199.5,551.7v9.2M1202.3,548.9h9.2M1206.9,544.3v9.2M1202.3,534.1h9.2M1206.9,529.5v9.2M1217.2,534.1h9.2M1221.8,529.5v9.2M1194.9,512.0h9.2M1199.5,507.4v9.2M1194.9,526.7h9.2M1199.5,522.1v9.2M1202.3,526.7h9.2M1206.9,522.1v9.2M1209.7,526.7h9.2M1214.3,522.1v9.2M1217.2,525.3h9.2M1221.8,520.7v9.2M1224.6,526.7h9.2M1229.2,522.1v9.2M1239.5,512.0h9.2M1244.1,507.4v9.2M1246.9,482.5h9.2M1251.5,477.9v9.2M1284.1,467.7h9.2M1288.7,463.1v9.2M1306.4,441.1h9.2M1311.0,436.5v9.2M1328.7,349.6h9.2M1333.3,345.0v9.2M1395.6,327.5h9.2M1400.2,322.9v9.2M1432.8,312.7h9.2M1437.4,308.1v9.2M1403.1,345.2h9.2M1407.7,340.6v9.2M1388.2,364.4h9.2M1392.8,359.8v9.2" fill="none" stroke="#3a2c6c" stroke-width="1.4"/>
<path d="M1135.6,610.9l8.8,8.8m0,-8.8l-8.8,8.8M1157.9,588.8l8.8,8.8m0,-8.8l-8.8,8.8M1187.6,559.2l8.8,8.8m0,-8.8l-8.8,8.8M1247.1,500.2l8.8,8.8m0,-8.8l-8.8,8.8M1254.5,492.8l8.8,8.8m0,-8.8l-8.8,8.8M1269.4,475.1l8.8,8.8m0,-8.8l-8.8,8.8M1291.7,455.9l8.8,8.8m0,-8.8l-8.8,8.8M1299.2,404.3l8.8,8.8m0,-8.8l-8.8,8.8M1321.5,426.4l8.8,8.8m0,-8.8l-8.8,8.8M1433.0,315.7l8.8,8.8m0,-8.8l-8.8,8.8M1641.2,109.1l8.8,8.8m0,-8.8l-8.8,8.8" fill="none" stroke="#2a6688" stroke-width="1.3"/>
</g>
<path d="M1065.6,98.7H1660.5V689.1H1065.6Z" fill="none" stroke="#000" stroke-width="2.8"/>
<path d="M1065.6,98.7v-10.5M1065.6,689.1v11M1065.6,98.7h-11M1660.5,98.7h10.3M1140.0,98.7v-6M1140.0,689.1v6M1065.6,172.5h-5M1660.5,172.5h4.5M1214.3,98.7v-10.5M1214.3,689.1v11M1065.6,246.3h-11M1660.5,246.3h10.3M1288.7,98.7v-6M1288.7,689.1v6M1065.6,320.1h-5M1660.5,320.1h4.5M1363.0,98.7v-10.5M1363.0,689.1v11M1065.6,393.9h-11M1660.5,393.9h10.3M1437.4,98.7v-6M1437.4,689.1v6M1065.6,467.7h-5M1660.5,467.7h4.5M1511.8,98.7v-10.5M1511.8,689.1v11M1065.6,541.5h-11M1660.5,541.5h10.3M1586.1,98.7v-6M1586.1,689.1v6M1065.6,615.3h-5M1660.5,615.3h4.5M1660.5,98.7v-10.5M1660.5,689.1v11M1065.6,689.1h-11M1660.5,689.1h10.3" stroke="#000" stroke-width="2.4" fill="none"/>
<text class="ss" y="84.7" font-size="18"><tspan x="1060.8">0</tspan></text>
<text class="ss" y="105.2" font-size="18"><tspan x="1041.99">0</tspan></text>
<text class="ss" y="84.7" font-size="18"><tspan x="1204.51">25</tspan></text>
<text class="ss" y="252.8" font-size="18"><tspan x="1031.97">25</tspan></text>
<text class="ss" y="84.7" font-size="18"><tspan x="1353.24">50</tspan></text>
<text class="ss" y="400.4" font-size="18"><tspan x="1031.97">50</tspan></text>
<text class="ss" y="84.7" font-size="18"><tspan x="1501.96">75</tspan></text>
<text class="ss" y="548" font-size="18"><tspan x="1031.97">75</tspan></text>
<text class="ss" y="84.7" font-size="18"><tspan x="1645.68">100</tspan></text>
<text class="ss" y="695.6" font-size="18"><tspan x="1021.97">100</tspan></text>
<text class="ss" y="721.2" font-size="18"><tspan x="1060.6">0</tspan></text>
<text class="ss" y="721.2" font-size="18"><tspan x="1134.96">5</tspan></text>
<text class="ss" y="721.2" font-size="18"><tspan x="1205.31">10</tspan></text>
<text class="ss" y="721.2" font-size="18"><tspan x="1279.67">15</tspan></text>
<text class="ss" y="721.2" font-size="18"><tspan x="1354.04">20</tspan></text>
<text class="ss" y="721.2" font-size="18"><tspan x="1428.4">25</tspan></text>
<text class="ss" y="721.2" font-size="18"><tspan x="1502.76">30</tspan></text>
<text class="ss" y="721.2" font-size="18"><tspan x="1577.12">35</tspan></text>
<text class="ss" y="721.2" font-size="18"><tspan x="1651.49">40</tspan></text>
<text class="ss" y="695.6" font-size="18"><tspan x="1682.9">0</tspan></text>
<text class="ss" y="548" font-size="18"><tspan x="1674.97">10</tspan></text>
<text class="ss" y="400.4" font-size="18"><tspan x="1674.97">20</tspan></text>
<text class="ss" y="252.8" font-size="18"><tspan x="1674.97">30</tspan></text>
<text class="ss" y="105.2" font-size="18"><tspan x="1674.97">40</tspan></text>
<text class="sf" y="58.4" font-size="23"><tspan x="1135.4" letter-spacing="0.48">Original</tspan> <tspan x="1228.3" letter-spacing="0.42">pores</tspan> <tspan x="1292" letter-spacing="0.5">destroyed</tspan> <tspan x="1399" letter-spacing="-1.9">by</tspan> <tspan x="1432.8" letter-spacing="0.55">cementation</tspan><tspan x="1556.65" dy="-1.8" font-size="22.5">(</tspan><tspan x="1565.64" dy="1.8" font-size="19.5" class="sm">%</tspan><tspan x="1578.95" dy="-1.8" font-size="22.5">)</tspan></text>
<text class="sf" y="745.3" font-size="23"><tspan x="1310.6" letter-spacing="0.05">Cement</tspan><tspan x="1387.55" dy="-1.8" font-size="22.5">(</tspan><tspan x="1396.54" dy="1.8" font-size="19.5" class="sm">%</tspan><tspan x="1409.85" dy="-1.8" font-size="22.5">)</tspan></text>
<text class="sf" y="0" font-size="23" transform="translate(1018.2 0) rotate(-90)"><tspan x="-615" letter-spacing="1.25">Original</tspan> <tspan x="-521.2" letter-spacing="0.22">pores</tspan> <tspan x="-456.9" letter-spacing="0.54">destroyed</tspan> <tspan x="-349.5" letter-spacing="-1.4">by</tspan> <tspan x="-316.2" letter-spacing="0.21">compaction</tspan><tspan x="-200.35" dy="-1.8" font-size="22.5">(</tspan><tspan x="-191.36" dy="1.8" font-size="19.5" class="sm">%</tspan><tspan x="-178.05" dy="-1.8" font-size="22.5">)</tspan></text>
<text class="sf" y="0" font-size="23" transform="translate(1723.7 0) rotate(-90)"><tspan x="-515.3" letter-spacing="0.72">Intergranular</tspan> <tspan x="-375.8" letter-spacing="0.5">volume</tspan><tspan x="-298.95" dy="-1.8" font-size="22.5">(</tspan><tspan x="-289.96" dy="1.8" font-size="19.5" class="sm">%</tspan><tspan x="-276.65" dy="-1.8" font-size="22.5">)</tspan></text>
<text class="sf" y="0" font-size="23" transform="translate(1165.8 151.8) rotate(44.8)"><tspan x="0" letter-spacing="0.55">Porosity</tspan> <tspan x="94" letter-spacing="0.33">of</tspan> <tspan x="126.5" letter-spacing="0.35">intergranular</tspan></text>
<text class="sf" y="0" font-size="23" transform="translate(1213.0 229.3) rotate(44.8)"><tspan x="0" letter-spacing="0.42">pores</tspan><tspan x="55.05" dy="-1.8" font-size="22.5">(</tspan><tspan x="64.04" dy="1.8" font-size="19.5" class="sm">%</tspan><tspan x="77.35" dy="-1.8" font-size="22.5">)</tspan></text>
<text class="ss" y="7" font-size="19.5" transform="translate(1142.3 197.7) rotate(-45)"><tspan x="-10.85">30</tspan></text>
<text class="ss" y="7" font-size="19.5" transform="translate(1212.8 272) rotate(-45)"><tspan x="-10.85">20</tspan></text>
<text class="ss" y="7" font-size="19.5" transform="translate(1291.4 350.8) rotate(-45)"><tspan x="-10.85">10</tspan></text>
<rect x="1469" y="522.3" width="10.8" height="10.6" fill="#5ba6df"/>
<path d="M1474.4,568.6L1479.6,578.4H1469.2Z" fill="#d9933d" stroke="#e9ae1f" stroke-width="1"/>
<path d="M1469.6,619.8h9.6M1474.4,615v9.6" stroke="#3a2c6c" stroke-width="1.3" fill="none"/>
<path d="M1469.8,661.5l9.2,9.2M1469.8,670.7l9.2,-9.2" stroke="#2a6688" stroke-width="1.3" fill="none"/>
<text class="sf" y="532.5" font-size="16.5"><tspan x="1485.5" letter-spacing="0.76">He</tspan> <tspan x="1511">8</tspan> <tspan x="1523.1" letter-spacing="0.88">Member</tspan></text>
<text class="sf" y="578.6" font-size="16.5"><tspan x="1484.9" letter-spacing="0.79">Shaixi</tspan> <tspan x="1540.5" letter-spacing="0.79">formation</tspan></text>
<text class="sf" y="624.9" font-size="16.5"><tspan x="1484.5" letter-spacing="0.78">Taiyuan</tspan> <tspan x="1551.6" letter-spacing="0.75">formation</tspan></text>
<text class="sf" y="671" font-size="16.5"><tspan x="1485.5" letter-spacing="0.75">Yanghugou</tspan> <tspan x="1576" letter-spacing="0.8">formation</tspan></text>
</svg>
</body>
</html>
